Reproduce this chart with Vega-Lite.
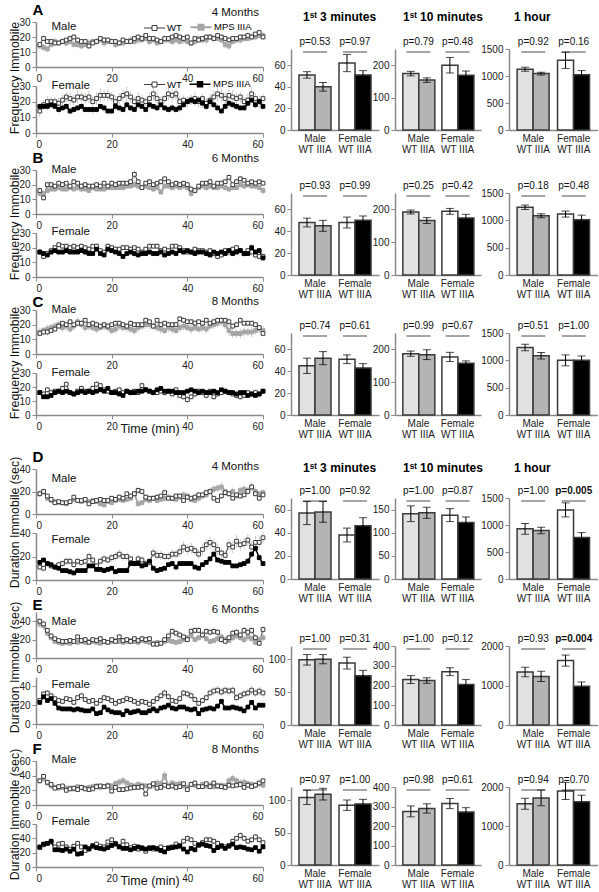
{
"$schema":"https://vega.github.io/schema/vega-lite/v6.json",
"background":"white",
"padding":{"left":8,"top":2,"right":0,"bottom":0},
"config":{"font":"Liberation Sans","view":{"stroke":null},"numberFormat":"d",
"axis":{"grid":false,"labelOverlap":false,"domainColor":"#8a8a8a","domainWidth":1.5,"tickColor":"#8a8a8a","tickSize":4,"labelColor":"#222","labelFontSize":10,"labelPadding":2,"titleFont":"Liberation Sans","titleFontWeight":"normal","titleFontSize":12.5,"titleColor":"#111"},
"title":{"font":"Liberation Sans","fontSize":11.5,"fontWeight":"normal","color":"#111"},
"bar":{"stroke":"#3a3a3a","strokeWidth":1.5},
"tick":{"color":"black","thickness":1},
"rule":{"color":"black","strokeWidth":1},
"text":{"fontSize":10,"color":"#111"},
"scale":{"bandPaddingInner":0.29,"bandPaddingOuter":0.19}},
"datasets":{
"ts":[
{"r":"A","s":"Male","g":"MPS IIIA","t":[1,2,3,4,5,6,7,8,9,10,11,12,13,14,15,16,17,18,19,20,21,22,23,24,25,26,27,28,29,30,31,32,33,34,35,36,37,38,39,40,41,42,43,44,45,46,47,48,49,50,51,52,53,54,55,56,57,58,59,60],"v":[14,13,12,15,17,16,17,16,17,15,15,14,15,16,17,17,18,16,17,17,15,16,16,17,18,17,18,18,19,17,18,16,17,18,18,17,18,17,18,17,16,17,19,18,18,20,19,19,18,15,14,17,18,18,19,19,20,20,21,21],"e":[2,2.5,2,2,2.5,2,2,2.5,2,2,2.5,2,2,2.5,2,2,2,2.5,2,2,2.5,2,2,2,2.5,2,2.5,2,2,2.5,2,2,2.5,2,2,2.5,2,2,2.5,2,2,2.5,2,2,2.5,2,2.5,2,2,2.5,2.5,2,2,2.5,2,2,2.5,2,2,2.5]},
{"r":"A","s":"Male","g":"WT","t":[1,2,3,4,5,6,7,8,9,10,11,12,13,14,15,16,17,18,19,20,21,22,23,24,25,26,27,28,29,30,31,32,33,34,35,36,37,38,39,40,41,42,43,44,45,46,47,48,49,50,51,52,53,54,55,56,57,58,59,60],"v":[15,19,17,17,16,16,17,18,19,20,18,17,17,14,16,17,19,18,18,17,17,16,18,17,17,19,20,19,21,19,19,18,17,19,19,20,21,20,19,20,16,19,18,19,20,20,19,21,20,19,18,19,19,20,20,21,20,22,23,20],"e":[1.5,2,1.5,1.5,2,1.5,2,1.5,2,2,1.5,1.5,2,2,1.5,2,1.5,2,1.5,1.5,2,1.5,2,1.5,2,2,1.5,2,1.5,2,1.5,2,1.5,2,2,1.5,2,2,1.5,2,2,1.5,2,1.5,2,2,1.5,2,2,1.5,2,2,1.5,2,1.5,2,2,1.5,2,2]},
{"r":"A","s":"Female","g":"WT","t":[1,2,3,4,5,6,7,8,9,10,11,12,13,14,15,16,17,18,19,20,21,22,23,24,25,26,27,28,29,30,31,32,33,34,35,36,37,38,39,40,41,42,43,44,45,46,47,48,49,50,51,52,53,54,55,56,57,58,59,60],"v":[14,18,20,20,20,19,21,23,22,21,23,23,22,23,20,22,24,24,24,23,20,22,24,25,23,20,22,21,20,22,25,22,20,22,25,24,25,20,21,20,21,22,20,22,19,21,23,25,24,22,24,23,22,23,20,21,25,22,20,22],"e":[4,3,3.5,3,3,4,3.5,3,4,3.5,4,3,3.5,4,3,4,4.5,3.5,4,3,4,3.5,4,4.5,3.5,3,4,3.5,3,4,4.5,4,3.5,3,4,4.5,4,3.5,3,3.5,3,4,3.5,3,3.5,4,4.5,5,4,3.5,4,4.5,4,3.5,3,4,4,3.5,4,3]},
{"r":"A","s":"Female","g":"MPS IIIA","t":[1,2,3,4,5,6,7,8,9,10,11,12,13,14,15,16,17,18,19,20,21,22,23,24,25,26,27,28,29,30,31,32,33,34,35,36,37,38,39,40,41,42,43,44,45,46,47,48,49,50,51,52,53,54,55,56,57,58,59,60],"v":[17,17,17,18,17,15,16,17,14,15,16,17,15,15,15,15,17,16,14,14,17,16,15,18,16,15,18,17,15,18,17,16,18,16,15,16,15,16,18,20,21,20,21,19,17,20,18,16,14,17,19,18,17,16,16,19,21,18,20,17],"e":[2,2,2.5,2,2,2.5,2,2,2.5,2,2,2.5,2,2,2.5,2,2,2.5,2,2,2.5,2,2,2.5,2,2,2.5,2,2,2.5,2,2,2.5,2,2,2.5,2,2.5,2,2.5,3,2.5,2.5,3,2.5,3,2.5,2.5,2,2.5,2.5,2,2.5,2,2,2.5,3,2.5,2.5,2]},
{"r":"B","s":"Male","g":"MPS IIIA","t":[1,2,3,4,5,6,7,8,9,10,11,12,13,14,15,16,17,18,19,20,21,22,23,24,25,26,27,28,29,30,31,32,33,34,35,36,37,38,39,40,41,42,43,44,45,46,47,48,49,50,51,52,53,54,55,56,57,58,59,60],"v":[14,14,16,17,17,18,17,17,18,17,18,17,17,16,18,17,17,17,18,18,18,18,18,19,19,20,19,18,19,18,17,18,15,19,19,18,19,18,19,18,14,16,18,19,18,19,18,18,19,18,17,18,18,20,19,20,19,19,18,16],"e":[2,2,2,1.5,2,2,1.5,2,2,1.5,2,2,1.5,2,2,1.5,2,2,1.5,2,2,1.5,2,2,1.5,2,2,1.5,2,2,2,1.5,2,2,1.5,2,2,1.5,2,2,2.5,2,2,1.5,2,2,1.5,2,2,1.5,2,2,1.5,2,2,2,1.5,2,2,2.5]},
{"r":"B","s":"Male","g":"WT","t":[1,2,3,4,5,6,7,8,9,10,11,12,13,14,15,16,17,18,19,20,21,22,23,24,25,26,27,28,29,30,31,32,33,34,35,36,37,38,39,40,41,42,43,44,45,46,47,48,49,50,51,52,53,54,55,56,57,58,59,60],"v":[16,11,20,20,19,21,20,21,19,22,21,19,20,19,19,20,19,21,19,21,20,21,21,21,22,27,22,18,21,22,20,21,22,24,22,20,21,20,21,20,17,16,19,21,21,22,19,21,21,22,25,20,22,24,23,21,22,21,22,21],"e":[2.5,2,2,2,1.5,2,2,1.5,2,2,1.5,2,2,1.5,2,2,1.5,2,2,2,1.5,2,2,1.5,2,3,2,2,1.5,2,2,1.5,2,2,2,1.5,2,2,1.5,2,2.5,2,2,1.5,2,2,2,1.5,2,2,2.5,2,2,2,1.5,2,2,1.5,2,2]},
{"r":"B","s":"Female","g":"WT","t":[1,2,3,4,5,6,7,8,9,10,11,12,13,14,15,16,17,18,19,20,21,22,23,24,25,26,27,28,29,30,31,32,33,34,35,36,37,38,39,40,41,42,43,44,45,46,47,48,49,50,51,52,53,54,55,56,57,58,59,60],"v":[17,14,16,18,20,22,21,21,20,21,20,21,20,19,21,21,18,17,21,20,19,19,20,20,19,20,19,17,19,21,21,21,18,19,18,21,21,20,18,17,17,19,18,18,17,18,16,14,15,18,17,19,20,18,16,18,17,15,14,14],"e":[2,2.5,2,2,1.5,2,1.5,2,1.5,2,1.5,2,1.5,2,1.5,2,2,1.5,2,1.5,2,1.5,2,1.5,2,1.5,2,2,1.5,2,1.5,2,1.5,2,1.5,2,2,1.5,2,1.5,2,1.5,2,1.5,2,2,2.5,2.5,2,2,2.5,2,2,2,2.5,2,2.5,2.5,2,2.5]},
{"r":"B","s":"Female","g":"MPS IIIA","t":[1,2,3,4,5,6,7,8,9,10,11,12,13,14,15,16,17,18,19,20,21,22,23,24,25,26,27,28,29,30,31,32,33,34,35,36,37,38,39,40,41,42,43,44,45,46,47,48,49,50,51,52,53,54,55,56,57,58,59,60],"v":[17,16,15,17,18,17,17,18,17,17,17,18,17,16,16,19,16,15,19,18,17,16,14,16,17,16,15,16,16,17,16,16,17,15,16,17,16,18,17,18,17,16,17,17,16,15,17,16,17,16,18,16,17,18,16,16,20,17,18,13],"e":[1.5,2,1.5,2,1.5,1.5,2,1.5,1.5,2,1.5,1.5,2,1.5,1.5,2,1.5,1.5,2,1.5,1.5,2,1.5,1.5,2,1.5,1.5,2,1.5,1.5,2,1.5,1.5,2,1.5,1.5,2,1.5,1.5,2,1.5,1.5,2,1.5,1.5,2,1.5,1.5,2,1.5,1.5,2,1.5,1.5,2,1.5,2.5,2,1.5,2]},
{"r":"C","s":"Male","g":"MPS IIIA","t":[1,2,3,4,5,6,7,8,9,10,11,12,13,14,15,16,17,18,19,20,21,22,23,24,25,26,27,28,29,30,31,32,33,34,35,36,37,38,39,40,41,42,43,44,45,46,47,48,49,50,51,52,53,54,55,56,57,58,59,60],"v":[15,16,17,18,19,20,18,19,17,19,22,20,18,19,18,17,18,19,18,16,17,19,18,18,17,16,18,19,20,20,19,18,17,16,18,17,16,18,19,18,17,18,17,18,17,19,20,21,22,20,16,14,14,14,15,15,15,16,17,16],"e":[3,2.5,3,2.5,3,2.5,3,3,2.5,3,3,2.5,3,3,2.5,3,2.5,3,3,2.5,3,3,2.5,3,2.5,3,3,2.5,3,3,2.5,3,3,2.5,3,3,2.5,3,3,2.5,3,3,2.5,3,3,2.5,3,3,3,3,3.5,3,3,3.5,3,3,3.5,3,3,3]},
{"r":"C","s":"Male","g":"WT","t":[1,2,3,4,5,6,7,8,9,10,11,12,13,14,15,16,17,18,19,20,21,22,23,24,25,26,27,28,29,30,31,32,33,34,35,36,37,38,39,40,41,42,43,44,45,46,47,48,49,50,51,52,53,54,55,56,57,58,59,60],"v":[14,15,15,16,17,19,21,20,22,20,21,21,23,20,21,20,19,20,19,20,21,21,20,19,21,20,20,20,23,22,19,23,20,21,20,20,20,24,23,22,22,21,22,21,23,21,22,23,23,23,22,19,20,23,21,21,21,20,18,14],"e":[2,2,2.5,2,2,2,1.5,2,2,1.5,2,2,2,1.5,2,2,1.5,2,2,1.5,2,2,1.5,2,2,1.5,2,2,2,1.5,2,2,1.5,2,2,1.5,2,2,2,1.5,2,2,1.5,2,2,1.5,2,2,2,1.5,2,2,2,2,1.5,2,2,1.5,2,2]},
{"r":"C","s":"Female","g":"WT","t":[1,2,3,4,5,6,7,8,9,10,11,12,13,14,15,16,17,18,19,20,21,22,23,24,25,26,27,28,29,30,31,32,33,34,35,36,37,38,39,40,41,42,43,44,45,46,47,48,49,50,51,52,53,54,55,56,57,58,59,60],"v":[16,15,18,16,17,17,19,22,16,15,17,19,17,17,19,22,21,18,17,16,17,18,16,17,16,17,16,21,18,17,16,16,17,16,17,15,18,14,13,11,13,15,17,16,14,17,13,15,16,17,16,15,14,13,14,16,15,16,15,17],"e":[2,2.5,2,2.5,2,2,2.5,2,2.5,2,2,2.5,2,2,2.5,2.5,2,2,2.5,2,2,2.5,2,2,2.5,2,2,2.5,2,2,2.5,2,2,2.5,2,2,2.5,2,2.5,2.5,2,2.5,2,2,2.5,2,2.5,2,2,2.5,2,2,2.5,2,2.5,2,2,2.5,2,2]},
{"r":"C","s":"Female","g":"MPS IIIA","t":[1,2,3,4,5,6,7,8,9,10,11,12,13,14,15,16,17,18,19,20,21,22,23,24,25,26,27,28,29,30,31,32,33,34,35,36,37,38,39,40,41,42,43,44,45,46,47,48,49,50,51,52,53,54,55,56,57,58,59,60],"v":[16,13,13,14,16,17,16,17,16,15,16,17,16,17,16,17,18,17,19,16,16,15,14,17,16,16,17,17,18,17,16,18,19,17,17,17,16,16,16,17,18,17,16,17,16,16,17,16,18,17,16,16,15,16,16,14,15,14,15,17],"e":[1.5,1.5,2,1.5,1.5,1.5,2,1.5,1.5,1.5,2,1.5,1.5,1.5,2,1.5,1.5,1.5,2,1.5,1.5,1.5,2,1.5,1.5,1.5,2,1.5,1.5,1.5,2,1.5,1.5,1.5,2,1.5,1.5,1.5,2,1.5,1.5,1.5,2,1.5,1.5,1.5,2,1.5,1.5,1.5,2,1.5,1.5,1.5,2,1.5,1.5,1.5,2,1.5]},
{"r":"D","s":"Male","g":"MPS IIIA","t":[1,2,3,4,5,6,7,8,9,10,11,12,13,14,15,16,17,18,19,20,21,22,23,24,25,26,27,28,29,30,31,32,33,34,35,36,37,38,39,40,41,42,43,44,45,46,47,48,49,50,51,52,53,54,55,56,57,58,59,60],"v":[18,20,14,12,11,10,10,9,11,13,12,11,12,11,12,11,9,8,11,10,12,13,12,13,14,18,9,10,13,12,14,12,13,14,15,14,13,15,17,16,13,12,14,16,17,20,22,23,24,20,18,20,16,21,22,21,24,20,18,19],"e":[3,3,2.5,2,2,1.5,2,1.5,2,2,2,2,2,2,2.5,2,2,1.5,2,2,2.5,2.5,2,2.5,2.5,3,2,2,2.5,2.5,2.5,2.5,2.5,3,2.5,2.5,2.5,3,3,3,2.5,2.5,3,3,3,3.5,3.5,3.5,4,3.5,3,3.5,3,3.5,3.5,3,4,3.5,3,3]},
{"r":"D","s":"Male","g":"WT","t":[1,2,3,4,5,6,7,8,9,10,11,12,13,14,15,16,17,18,19,20,21,22,23,24,25,26,27,28,29,30,31,32,33,34,35,36,37,38,39,40,41,42,43,44,45,46,47,48,49,50,51,52,53,54,55,56,57,58,59,60],"v":[18,20,16,13,10,11,10,10,11,15,12,12,13,9,11,12,13,12,12,14,13,15,14,18,16,18,21,20,15,14,14,15,16,19,14,14,16,16,12,15,14,15,17,17,19,20,14,12,16,19,18,14,17,16,17,20,24,18,14,17],"e":[3,2.5,2,2,1.5,2,1.5,1.5,2,2,2,1.5,2,1.5,2,2,1.5,2,2,2,2,2.5,2,2.5,2,2.5,3,2.5,2,2,2,2.5,2,3,2,2,2.5,2,2,2.5,2,2.5,2.5,2,3,2.5,2,2,2.5,3,2.5,2,2.5,2.5,2,3,3,2.5,2,2.5]},
{"r":"D","s":"Female","g":"WT","t":[1,2,3,4,5,6,7,8,9,10,11,12,13,14,15,16,17,18,19,20,21,22,23,24,25,26,27,28,29,30,31,32,33,34,35,36,37,38,39,40,41,42,43,44,45,46,47,48,49,50,51,52,53,54,55,56,57,58,59,60],"v":[11,10,14,12,11,13,14,16,16,13,16,15,16,20,17,12,16,18,17,19,20,22,20,20,18,14,18,17,14,15,23,21,21,20,20,22,22,24,28,26,27,25,22,26,30,32,30,26,23,21,30,28,33,30,31,34,28,32,32,36],"e":[3,2.5,3,2.5,2.5,3,3,3,3,2.5,3,3,3,3.5,3,2.5,3,3.5,3,3.5,3.5,4,3.5,3.5,3,3,3.5,3,3,3,4,3.5,4,3.5,3.5,4,4,4.5,5,4.5,4.5,4,4,4.5,5,5,5,4.5,4,4,5,5,5.5,5,5,5.5,5,5.5,5,5]},
{"r":"D","s":"Female","g":"MPS IIIA","t":[1,2,3,4,5,6,7,8,9,10,11,12,13,14,15,16,17,18,19,20,21,22,23,24,25,26,27,28,29,30,31,32,33,34,35,36,37,38,39,40,41,42,43,44,45,46,47,48,49,50,51,52,53,54,55,56,57,58,59,60],"v":[15,17,14,13,11,10,8,8,7,6,8,8,8,12,12,9,9,8,9,10,7,8,8,8,14,14,14,12,13,16,10,8,9,10,13,14,11,14,14,14,14,11,10,13,15,18,22,17,16,15,15,12,12,13,14,16,22,27,19,14],"e":[2,2,2,2,1.5,1.5,1.5,1.5,1.5,1,1.5,1.5,1.5,2,2,1.5,1.5,1.5,1.5,1.5,1.5,1.5,1.5,1.5,2,2,2,2,2,2.5,1.5,1.5,1.5,1.5,2,2,2,2,2,2,2,2,1.5,2,2,2.5,3,2.5,2.5,2,2,2,2,2,2,2.5,3,3.5,3,2]},
{"r":"E","s":"Male","g":"MPS IIIA","t":[1,2,3,4,5,6,7,8,9,10,11,12,13,14,15,16,17,18,19,20,21,22,23,24,25,26,27,28,29,30,31,32,33,34,35,36,37,38,39,40,41,42,43,44,45,46,47,48,49,50,51,52,53,54,55,56,57,58,59,60],"v":[37,35,27,22,18,17,16,17,16,18,17,18,17,18,18,17,16,18,17,18,19,18,17,18,19,18,17,19,18,17,16,17,16,18,19,18,17,18,20,22,24,20,22,25,21,18,19,21,23,20,19,22,24,22,20,23,21,17,20,22],"e":[4,4,3.5,3,2.5,2.5,2,2,2,2.5,2.5,2.5,2,2.5,2.5,2.5,2,2.5,2.5,2.5,2.5,2.5,2.5,2.5,2.5,2.5,2.5,2.5,2.5,2.5,2,2.5,2,2.5,2.5,2.5,2.5,3,3,3.5,3.5,3,3.5,4,3.5,3,3,3.5,4,3.5,3,3.5,4,3.5,3.5,4,3.5,3,3.5,4]},
{"r":"E","s":"Male","g":"WT","t":[1,2,3,4,5,6,7,8,9,10,11,12,13,14,15,16,17,18,19,20,21,22,23,24,25,26,27,28,29,30,31,32,33,34,35,36,37,38,39,40,41,42,43,44,45,46,47,48,49,50,51,52,53,54,55,56,57,58,59,60],"v":[40,37,30,24,21,19,18,18,19,18,23,19,20,17,20,19,21,18,17,20,18,23,19,20,18,21,19,21,20,21,15,15,16,20,24,29,27,25,23,20,29,30,30,25,29,28,29,28,20,18,22,27,28,25,30,28,30,22,16,31],"e":[4,4,3,3,2.5,2.5,2,2,2.5,2,3,2.5,2.5,2,2.5,2.5,3,2.5,2,2.5,2.5,3,2.5,2.5,2.5,3,2.5,3,2.5,3,2,2,2.5,3,3.5,4,3.5,3.5,3.5,3,4,4,4,3.5,4,4,4,4,3.5,3,3.5,4,4,3.5,4,4,4,3.5,3,4]},
{"r":"E","s":"Female","g":"WT","t":[1,2,3,4,5,6,7,8,9,10,11,12,13,14,15,16,17,18,19,20,21,22,23,24,25,26,27,28,29,30,31,32,33,34,35,36,37,38,39,40,41,42,43,44,45,46,47,48,49,50,51,52,53,54,55,56,57,58,59,60],"v":[25,32,33,30,27,25,24,27,26,23,28,30,26,24,25,22,25,28,27,25,22,24,25,27,26,24,22,24,23,21,24,27,30,33,29,25,24,27,33,32,30,26,22,25,28,33,35,36,34,36,35,36,28,30,32,33,36,33,35,33],"e":[3,3.5,3.5,3.5,3,3,3,3.5,3,3,3.5,3.5,3,3,3,3,3,3.5,3,3,3,3,3,3.5,3,3,3,3,3,3,3,3.5,3.5,4,3.5,3,3,3.5,4,4,4,3.5,3,3.5,3.5,4,4.5,4.5,4.5,4.5,4.5,4.5,4,4,4,4.5,4.5,4,4.5,4]},
{"r":"E","s":"Female","g":"MPS IIIA","t":[1,2,3,4,5,6,7,8,9,10,11,12,13,14,15,16,17,18,19,20,21,22,23,24,25,26,27,28,29,30,31,32,33,34,35,36,37,38,39,40,41,42,43,44,45,46,47,48,49,50,51,52,53,54,55,56,57,58,59,60],"v":[23,29,25,27,22,17,16,16,16,15,16,15,14,14,16,11,12,18,15,13,12,12,10,14,12,13,14,12,12,14,16,14,17,18,20,17,16,18,18,16,15,16,11,15,16,17,16,19,24,17,17,18,17,16,14,18,23,17,20,20],"e":[2.5,3,2.5,3,2.5,2,2,2,2,2,2,2,2,2,2,1.5,1.5,2.5,2,2,1.5,1.5,1.5,2,1.5,2,2,1.5,1.5,2,2,2,2,2.5,2.5,2,2,2.5,2.5,2,2,2,1.5,2,2,2,2,2.5,3,2,2,2.5,2,2,2,2.5,3,2,2.5,2.5]},
{"r":"F","s":"Male","g":"MPS IIIA","t":[1,2,3,4,5,6,7,8,9,10,11,12,13,14,15,16,17,18,19,20,21,22,23,24,25,26,27,28,29,30,31,32,33,34,35,36,37,38,39,40,41,42,43,44,45,46,47,48,49,50,51,52,53,54,55,56,57,58,59,60],"v":[33,36,30,26,24,23,24,23,23,22,25,24,23,24,25,26,24,25,27,26,29,31,33,30,27,26,28,27,26,25,27,30,29,40,26,30,28,29,26,24,28,27,25,28,26,27,25,26,27,26,33,36,33,30,31,29,28,27,29,27],"e":[4,4.5,4,4,3.5,4,4,3.5,4,4,4,4,3.5,4,4,4.5,4,4,4.5,4,4.5,5,5,4.5,4.5,4,4.5,4,4,4,4.5,5,4.5,6,4.5,5,4.5,4.5,4,4,4.5,4.5,4,4.5,4.5,4.5,4,4.5,4.5,4.5,5,5.5,5,5,5,4.5,4.5,4.5,5,4.5]},
{"r":"F","s":"Male","g":"WT","t":[1,2,3,4,5,6,7,8,9,10,11,12,13,14,15,16,17,18,19,20,21,22,23,24,25,26,27,28,29,30,31,32,33,34,35,36,37,38,39,40,41,42,43,44,45,46,47,48,49,50,51,52,53,54,55,56,57,58,59,60],"v":[33,39,31,28,23,25,26,20,22,23,21,24,22,21,22,25,26,25,26,19,24,21,21,22,23,24,24,25,15,26,29,23,24,27,25,26,24,25,29,21,28,30,25,25,29,25,30,26,25,24,27,26,27,28,24,27,25,27,30,33],"e":[3,4,3.5,3,3,3.5,3,2.5,3,3,2.5,3,3,2.5,3,3.5,3,3,3.5,2.5,3,3,2.5,3,3,3.5,3,3,2.5,3.5,3.5,3,3,3.5,3,3.5,3,3,3.5,3,3.5,4,3,3,3.5,3,4,3.5,3,3,3.5,3,3.5,4,3,3.5,3,3.5,4,4]},
{"r":"F","s":"Female","g":"WT","t":[1,2,3,4,5,6,7,8,9,10,11,12,13,14,15,16,17,18,19,20,21,22,23,24,25,26,27,28,29,30,31,32,33,34,35,36,37,38,39,40,41,42,43,44,45,46,47,48,49,50,51,52,53,54,55,56,57,58,59,60],"v":[27,31,33,35,28,32,33,28,25,29,33,28,23,26,30,32,29,28,35,38,33,29,36,31,27,29,25,27,22,27,25,26,28,26,27,28,32,30,36,40,38,33,30,34,38,38,36,33,30,28,30,36,40,44,40,36,38,42,38,34],"e":[3,3.5,3.5,4,3.5,3.5,3.5,3.5,3,3.5,4,3.5,3,3.5,3.5,4,3.5,3.5,4,4,4,3.5,4,3.5,3.5,3.5,3,3.5,3,3.5,3,3.5,3.5,3,3.5,3.5,4,3.5,4,4.5,4,4,3.5,4,4.5,4.5,4,4,3.5,3.5,4,4,4.5,5,4.5,4,4.5,4.5,4.5,4]},
{"r":"F","s":"Female","g":"MPS IIIA","t":[1,2,3,4,5,6,7,8,9,10,11,12,13,14,15,16,17,18,19,20,21,22,23,24,25,26,27,28,29,30,31,32,33,34,35,36,37,38,39,40,41,42,43,44,45,46,47,48,49,50,51,52,53,54,55,56,57,58,59,60],"v":[28,32,33,36,24,24,23,25,22,25,18,19,28,25,29,27,26,25,27,30,32,28,26,26,24,26,28,26,25,26,27,25,23,21,26,27,28,29,25,21,26,24,31,32,30,29,23,27,29,26,29,32,27,28,27,25,24,27,22,28],"e":[3,3,3,3.5,2.5,2.5,2.5,2.5,2.5,2.5,2,2,3,2.5,3,3,2.5,2.5,3,3,3,3,3,2.5,2.5,3,3,2.5,2.5,3,3,2.5,2.5,2.5,3,3,3,3,2.5,2.5,3,2.5,3,3.5,3,3,2.5,3,3,2.5,3,3.5,3,3,3,2.5,2.5,3,2.5,3]}
],
"bars":[
{"r":"A","c":1,"sex":"Male","g":"WT","grp":"Male WT","m":51,"lo":48,"hi":54,"p":"p=0.53"},
{"r":"A","c":1,"sex":"Male","g":"IIIA","grp":"Male IIIA","m":40,"lo":36,"hi":44,"p":"p=0.53"},
{"r":"A","c":1,"sex":"Female","g":"WT","grp":"Female WT","m":62,"lo":54,"hi":70,"p":"p=0.97"},
{"r":"A","c":1,"sex":"Female","g":"IIIA","grp":"Female IIIA","m":51,"lo":47,"hi":55,"p":"p=0.97"},
{"r":"A","c":2,"sex":"Male","g":"WT","grp":"Male WT","m":174,"lo":167,"hi":181,"p":"p=0.79"},
{"r":"A","c":2,"sex":"Male","g":"IIIA","grp":"Male IIIA","m":154,"lo":147,"hi":161,"p":"p=0.79"},
{"r":"A","c":2,"sex":"Female","g":"WT","grp":"Female WT","m":200,"lo":176,"hi":224,"p":"p=0.48"},
{"r":"A","c":2,"sex":"Female","g":"IIIA","grp":"Female IIIA","m":169,"lo":156,"hi":182,"p":"p=0.48"},
{"r":"A","c":3,"sex":"Male","g":"WT","grp":"Male WT","m":1125,"lo":1090,"hi":1160,"p":"p=0.92"},
{"r":"A","c":3,"sex":"Male","g":"IIIA","grp":"Male IIIA","m":1045,"lo":1020,"hi":1070,"p":"p=0.92"},
{"r":"A","c":3,"sex":"Female","g":"WT","grp":"Female WT","m":1290,"lo":1140,"hi":1440,"p":"p=0.16"},
{"r":"A","c":3,"sex":"Female","g":"IIIA","grp":"Female IIIA","m":1025,"lo":950,"hi":1100,"p":"p=0.16"},
{"r":"B","c":1,"sex":"Male","g":"WT","grp":"Male WT","m":48,"lo":44,"hi":52,"p":"p=0.93"},
{"r":"B","c":1,"sex":"Male","g":"IIIA","grp":"Male IIIA","m":45,"lo":40,"hi":50,"p":"p=0.93"},
{"r":"B","c":1,"sex":"Female","g":"WT","grp":"Female WT","m":48,"lo":43,"hi":53,"p":"p=0.99"},
{"r":"B","c":1,"sex":"Female","g":"IIIA","grp":"Female IIIA","m":50,"lo":46,"hi":54,"p":"p=0.99"},
{"r":"B","c":2,"sex":"Male","g":"WT","grp":"Male WT","m":192,"lo":186,"hi":198,"p":"p=0.25"},
{"r":"B","c":2,"sex":"Male","g":"IIIA","grp":"Male IIIA","m":166,"lo":157,"hi":175,"p":"p=0.25"},
{"r":"B","c":2,"sex":"Female","g":"WT","grp":"Female WT","m":194,"lo":185,"hi":203,"p":"p=0.42"},
{"r":"B","c":2,"sex":"Female","g":"IIIA","grp":"Female IIIA","m":174,"lo":163,"hi":185,"p":"p=0.42"},
{"r":"B","c":3,"sex":"Male","g":"WT","grp":"Male WT","m":1240,"lo":1200,"hi":1280,"p":"p=0.18"},
{"r":"B","c":3,"sex":"Male","g":"IIIA","grp":"Male IIIA","m":1085,"lo":1048,"hi":1122,"p":"p=0.18"},
{"r":"B","c":3,"sex":"Female","g":"WT","grp":"Female WT","m":1115,"lo":1060,"hi":1170,"p":"p=0.48"},
{"r":"B","c":3,"sex":"Female","g":"IIIA","grp":"Female IIIA","m":1010,"lo":925,"hi":1095,"p":"p=0.48"},
{"r":"C","c":1,"sex":"Male","g":"WT","grp":"Male WT","m":45,"lo":38,"hi":52,"p":"p=0.74"},
{"r":"C","c":1,"sex":"Male","g":"IIIA","grp":"Male IIIA","m":52,"lo":46,"hi":58,"p":"p=0.74"},
{"r":"C","c":1,"sex":"Female","g":"WT","grp":"Female WT","m":51,"lo":47,"hi":55,"p":"p=0.61"},
{"r":"C","c":1,"sex":"Female","g":"IIIA","grp":"Female IIIA","m":43,"lo":39,"hi":47,"p":"p=0.61"},
{"r":"C","c":2,"sex":"Male","g":"WT","grp":"Male WT","m":187,"lo":179,"hi":195,"p":"p=0.99"},
{"r":"C","c":2,"sex":"Male","g":"IIIA","grp":"Male IIIA","m":184,"lo":169,"hi":199,"p":"p=0.99"},
{"r":"C","c":2,"sex":"Female","g":"WT","grp":"Female WT","m":177,"lo":163,"hi":191,"p":"p=0.67"},
{"r":"C","c":2,"sex":"Female","g":"IIIA","grp":"Female IIIA","m":158,"lo":151,"hi":165,"p":"p=0.67"},
{"r":"C","c":3,"sex":"Male","g":"WT","grp":"Male WT","m":1235,"lo":1175,"hi":1295,"p":"p=0.51"},
{"r":"C","c":3,"sex":"Male","g":"IIIA","grp":"Male IIIA","m":1085,"lo":1025,"hi":1145,"p":"p=0.51"},
{"r":"C","c":3,"sex":"Female","g":"WT","grp":"Female WT","m":1000,"lo":900,"hi":1100,"p":"p=1.00"},
{"r":"C","c":3,"sex":"Female","g":"IIIA","grp":"Female IIIA","m":1000,"lo":920,"hi":1080,"p":"p=1.00"},
{"r":"D","c":1,"sex":"Male","g":"WT","grp":"Male WT","m":57,"lo":47,"hi":67,"p":"p=1.00"},
{"r":"D","c":1,"sex":"Male","g":"IIIA","grp":"Male IIIA","m":58,"lo":49,"hi":67,"p":"p=1.00"},
{"r":"D","c":1,"sex":"Female","g":"WT","grp":"Female WT","m":38,"lo":32,"hi":44,"p":"p=0.92"},
{"r":"D","c":1,"sex":"Female","g":"IIIA","grp":"Female IIIA","m":46,"lo":39,"hi":53,"p":"p=0.92"},
{"r":"D","c":2,"sex":"Male","g":"WT","grp":"Male WT","m":141,"lo":124,"hi":158,"p":"p=1.00"},
{"r":"D","c":2,"sex":"Male","g":"IIIA","grp":"Male IIIA","m":143,"lo":131,"hi":155,"p":"p=1.00"},
{"r":"D","c":2,"sex":"Female","g":"WT","grp":"Female WT","m":138,"lo":124,"hi":152,"p":"p=0.87"},
{"r":"D","c":2,"sex":"Female","g":"IIIA","grp":"Female IIIA","m":122,"lo":110,"hi":134,"p":"p=0.87"},
{"r":"D","c":3,"sex":"Male","g":"WT","grp":"Male WT","m":930,"lo":830,"hi":1030,"p":"p=1.00"},
{"r":"D","c":3,"sex":"Male","g":"IIIA","grp":"Male IIIA","m":900,"lo":840,"hi":960,"p":"p=1.00"},
{"r":"D","c":3,"sex":"Female","g":"WT","grp":"Female WT","m":1280,"lo":1150,"hi":1410,"p":"p=0.005","b":1},
{"r":"D","c":3,"sex":"Female","g":"IIIA","grp":"Female IIIA","m":770,"lo":680,"hi":860,"p":"p=0.005","b":1},
{"r":"E","c":1,"sex":"Male","g":"WT","grp":"Male WT","m":99,"lo":91,"hi":107,"p":"p=1.00"},
{"r":"E","c":1,"sex":"Male","g":"IIIA","grp":"Male IIIA","m":100,"lo":93,"hi":107,"p":"p=1.00"},
{"r":"E","c":1,"sex":"Female","g":"WT","grp":"Female WT","m":94,"lo":85,"hi":103,"p":"p=0.31"},
{"r":"E","c":1,"sex":"Female","g":"IIIA","grp":"Female IIIA","m":75,"lo":67,"hi":83,"p":"p=0.31"},
{"r":"E","c":2,"sex":"Male","g":"WT","grp":"Male WT","m":230,"lo":210,"hi":250,"p":"p=1.00"},
{"r":"E","c":2,"sex":"Male","g":"IIIA","grp":"Male IIIA","m":225,"lo":211,"hi":239,"p":"p=1.00"},
{"r":"E","c":2,"sex":"Female","g":"WT","grp":"Female WT","m":270,"lo":250,"hi":290,"p":"p=0.12"},
{"r":"E","c":2,"sex":"Female","g":"IIIA","grp":"Female IIIA","m":205,"lo":180,"hi":230,"p":"p=0.12"},
{"r":"E","c":3,"sex":"Male","g":"WT","grp":"Male WT","m":1340,"lo":1220,"hi":1460,"p":"p=0.93"},
{"r":"E","c":3,"sex":"Male","g":"IIIA","grp":"Male IIIA","m":1230,"lo":1100,"hi":1360,"p":"p=0.93"},
{"r":"E","c":3,"sex":"Female","g":"WT","grp":"Female WT","m":1630,"lo":1490,"hi":1770,"p":"p=0.004","b":1},
{"r":"E","c":3,"sex":"Female","g":"IIIA","grp":"Female IIIA","m":980,"lo":870,"hi":1090,"p":"p=0.004","b":1},
{"r":"F","c":1,"sex":"Male","g":"WT","grp":"Male WT","m":104,"lo":93,"hi":115,"p":"p=0.97"},
{"r":"F","c":1,"sex":"Male","g":"IIIA","grp":"Male IIIA","m":109,"lo":100,"hi":118,"p":"p=0.97"},
{"r":"F","c":1,"sex":"Female","g":"WT","grp":"Female WT","m":92,"lo":84,"hi":100,"p":"p=1.00"},
{"r":"F","c":1,"sex":"Female","g":"IIIA","grp":"Female IIIA","m":94,"lo":87,"hi":101,"p":"p=1.00"},
{"r":"F","c":2,"sex":"Male","g":"WT","grp":"Male WT","m":275,"lo":247,"hi":303,"p":"p=0.98"},
{"r":"F","c":2,"sex":"Male","g":"IIIA","grp":"Male IIIA","m":290,"lo":266,"hi":314,"p":"p=0.98"},
{"r":"F","c":2,"sex":"Female","g":"WT","grp":"Female WT","m":315,"lo":289,"hi":341,"p":"p=0.61"},
{"r":"F","c":2,"sex":"Female","g":"IIIA","grp":"Female IIIA","m":272,"lo":250,"hi":294,"p":"p=0.61"},
{"r":"F","c":3,"sex":"Male","g":"WT","grp":"Male WT","m":1570,"lo":1430,"hi":1710,"p":"p=0.94"},
{"r":"F","c":3,"sex":"Male","g":"IIIA","grp":"Male IIIA","m":1720,"lo":1520,"hi":1920,"p":"p=0.94"},
{"r":"F","c":3,"sex":"Female","g":"WT","grp":"Female WT","m":1900,"lo":1680,"hi":2120,"p":"p=0.70"},
{"r":"F","c":3,"sex":"Female","g":"IIIA","grp":"Female IIIA","m":1620,"lo":1450,"hi":1790,"p":"p=0.70"}
]},
"columns":4,
"bounds":"flush",
"spacing":{"row":19,"column":16},
"resolve":{"scale":{"stroke":"independent","fill":"independent","strokeWidth":"independent"}},
"concat":[
{"width":239,"height":63,"data":{"name":"ts"},"transform":[{"filter":"datum.r=='A'&&datum.s=='Male'"},{"flatten":["t","v","e"]}],"title":{"text":"4 Months","anchor":"end","frame":"group","dx":-16,"offset":-16},"resolve":{"axis":{"x":"independent"}},
 "encoding":{"y":{"field":"v","type":"quantitative","scale":{"domain":[0,30],"nice":false,"range":[63,18]},"axis":{"values":[0,10,20,30],"tickCount":20,"title":"Male","titleAngle":0,"titleAlign":"left","titleBaseline":"top","titleX":15,"titleY":16,"titleFontSize":11.5}}},
 "layer":[
  {"mark":{"type":"errorbar","color":"#c8c8c8","thickness":1},"encoding":{"x":{"field":"t","type":"quantitative","scale":{"domain":[0,60],"nice":false,"range":[0,227]},"axis":{"values":[0,20,40,60],"tickCount":20,"title":null}},"yError":{"field":"e"}}},
  {"mark":"line","encoding":{"x":{"field":"t","type":"quantitative","axis":{"orient":"top","domain":false,"ticks":false,"labels":false,"title":"A","titleX":-4,"titleY":13,"titleAlign":"left","titleBaseline":"bottom","titleFontSize":15,"titleFontWeight":"bold","titleColor":"#000"}},"stroke":{"field":"g","type":"nominal","scale":{"domain":["WT","MPS IIIA"],"range":["#3c3c3c","#a6a6a6"]},"legend":{"orient":"none","legendX":113,"legendY":17,"direction":"horizontal","gridAlign":"each","title":null,"symbolType":"M-2.1,0H-0.5M0.5,0H2.1M-0.5,-0.5H0.5V0.5H-0.5Z","symbolSize":100,"symbolStrokeWidth":1,"labelFontSize":9.5,"labelOffset":7,"columnPadding":4,"padding":0}},"strokeWidth":{"field":"g","type":"nominal","scale":{"domain":["WT","MPS IIIA"],"range":[1,2]},"legend":null}}},
  {"mark":{"type":"point","shape":"square","size":14,"filled":true,"opacity":1,"strokeWidth":1},"encoding":{"x":{"field":"t","type":"quantitative","axis":null},"stroke":{"field":"g","type":"nominal","scale":{"domain":["WT","MPS IIIA"],"range":["#3c3c3c","#a6a6a6"]},"legend":{"orient":"none","legendX":113,"legendY":17,"direction":"horizontal","gridAlign":"each","title":null,"symbolType":"M-2.1,0H-0.5M0.5,0H2.1M-0.5,-0.5H0.5V0.5H-0.5Z","symbolSize":100,"symbolStrokeWidth":1,"labelFontSize":9.5,"labelOffset":7,"columnPadding":4,"padding":0}},"fill":{"field":"g","type":"nominal","scale":{"domain":["WT","MPS IIIA"],"range":["#ffffff","#a6a6a6"]},"legend":{"orient":"none","legendX":113,"legendY":17,"direction":"horizontal","gridAlign":"each","title":null,"symbolType":"M-2.1,0H-0.5M0.5,0H2.1M-0.5,-0.5H0.5V0.5H-0.5Z","symbolSize":100,"symbolStrokeWidth":1,"labelFontSize":9.5,"labelOffset":7,"columnPadding":4,"padding":0}}}}
 ]},
{"width":88,"height":63,"data":{"name":"bars"},"transform":[{"filter":"datum.r=='A'&&datum.c==1"}],"title":{"text":"1ˢᵗ 3 minutes","anchor":"start","frame":"group","dx":12,"offset":-20,"fontSize":12,"fontWeight":"bold","color":"#000"},
 "encoding":{"x":{"field":"sex","type":"nominal","sort":["Male","Female"],"title":null,"axis":{"labelAngle":0,"ticks":false,"labelExpr":"[datum.label,'WT IIIA']","labelLineHeight":11,"labelPadding":3,"offset":63}}},
 "layer":[
  {"mark":"bar","encoding":{"xOffset":{"field":"g","type":"nominal","sort":["WT","IIIA"]},"y":{"field":"m","type":"quantitative","title":null,"scale":{"domain":[0,75],"nice":false,"range":[126,45]},"axis":{"values":[0,20,40,60],"tickCount":20}},"fill":{"field":"grp","type":"nominal","scale":{"domain":["Male WT","Male IIIA","Female WT","Female IIIA"],"range":["#e1e1e1","#b4b4b4","#ffffff","#000000"]},"legend":null}}},
  {"mark":"rule","encoding":{"xOffset":{"field":"g","type":"nominal","sort":["WT","IIIA"]},"y":{"field":"lo","type":"quantitative","title":null},"y2":{"field":"hi"}}},
  {"mark":{"type":"tick","size":8},"encoding":{"xOffset":{"field":"g","type":"nominal","sort":["WT","IIIA"]},"y":{"field":"lo","type":"quantitative","title":null}}},
  {"mark":{"type":"tick","size":8},"encoding":{"xOffset":{"field":"g","type":"nominal","sort":["WT","IIIA"]},"y":{"field":"hi","type":"quantitative","title":null}}},
  {"transform":[{"filter":"datum.g=='WT'&&!datum.b"}],"mark":{"type":"text","dy":-4,"baseline":"alphabetic"},"encoding":{"y":{"datum":75,"title":null},"text":{"field":"p"}}},
  {"transform":[{"filter":"datum.g=='WT'"}],"mark":{"type":"tick","size":24,"yOffset":3},"encoding":{"y":{"datum":75,"title":null}}}
 ]},
{"width":98,"height":63,"data":{"name":"bars"},"transform":[{"filter":"datum.r=='A'&&datum.c==2"}],"title":{"text":"1ˢᵗ 10 minutes","anchor":"start","frame":"group","dx":8,"offset":-20,"fontSize":12,"fontWeight":"bold","color":"#000"},
 "encoding":{"x":{"field":"sex","type":"nominal","sort":["Male","Female"],"title":null,"scale":{"range":[0,86]},"axis":{"labelAngle":0,"ticks":false,"labelExpr":"[datum.label,'WT IIIA']","labelLineHeight":11,"labelPadding":3,"offset":63}}},
 "layer":[
  {"mark":"bar","encoding":{"xOffset":{"field":"g","type":"nominal","sort":["WT","IIIA"]},"y":{"field":"m","type":"quantitative","title":null,"scale":{"domain":[0,250],"nice":false,"range":[126,45]},"axis":{"values":[0,100,200],"tickCount":20}},"fill":{"field":"grp","type":"nominal","scale":{"domain":["Male WT","Male IIIA","Female WT","Female IIIA"],"range":["#e1e1e1","#b4b4b4","#ffffff","#000000"]},"legend":null}}},
  {"mark":"rule","encoding":{"xOffset":{"field":"g","type":"nominal","sort":["WT","IIIA"]},"y":{"field":"lo","type":"quantitative","title":null},"y2":{"field":"hi"}}},
  {"mark":{"type":"tick","size":8},"encoding":{"xOffset":{"field":"g","type":"nominal","sort":["WT","IIIA"]},"y":{"field":"lo","type":"quantitative","title":null}}},
  {"mark":{"type":"tick","size":8},"encoding":{"xOffset":{"field":"g","type":"nominal","sort":["WT","IIIA"]},"y":{"field":"hi","type":"quantitative","title":null}}},
  {"transform":[{"filter":"datum.g=='WT'&&!datum.b"}],"mark":{"type":"text","dy":-4,"baseline":"alphabetic"},"encoding":{"y":{"datum":250,"title":null},"text":{"field":"p"}}},
  {"transform":[{"filter":"datum.g=='WT'"}],"mark":{"type":"tick","size":24,"yOffset":3},"encoding":{"y":{"datum":250,"title":null}}}
 ]},
{"width":89,"height":63,"data":{"name":"bars"},"transform":[{"filter":"datum.r=='A'&&datum.c==3"}],"title":{"text":"1 hour","anchor":"start","frame":"group","dx":5,"offset":-20,"fontSize":12,"fontWeight":"bold","color":"#000"},
 "encoding":{"x":{"field":"sex","type":"nominal","sort":["Male","Female"],"title":null,"axis":{"labelAngle":0,"ticks":false,"labelExpr":"[datum.label,'WT IIIA']","labelLineHeight":11,"labelPadding":3,"offset":63}}},
 "layer":[
  {"mark":"bar","encoding":{"xOffset":{"field":"g","type":"nominal","sort":["WT","IIIA"]},"y":{"field":"m","type":"quantitative","title":null,"scale":{"domain":[0,1500],"nice":false,"range":[126,45]},"axis":{"values":[0,500,1000,1500],"tickCount":20}},"fill":{"field":"grp","type":"nominal","scale":{"domain":["Male WT","Male IIIA","Female WT","Female IIIA"],"range":["#e1e1e1","#b4b4b4","#ffffff","#000000"]},"legend":null}}},
  {"mark":"rule","encoding":{"xOffset":{"field":"g","type":"nominal","sort":["WT","IIIA"]},"y":{"field":"lo","type":"quantitative","title":null},"y2":{"field":"hi"}}},
  {"mark":{"type":"tick","size":8},"encoding":{"xOffset":{"field":"g","type":"nominal","sort":["WT","IIIA"]},"y":{"field":"lo","type":"quantitative","title":null}}},
  {"mark":{"type":"tick","size":8},"encoding":{"xOffset":{"field":"g","type":"nominal","sort":["WT","IIIA"]},"y":{"field":"hi","type":"quantitative","title":null}}},
  {"transform":[{"filter":"datum.g=='WT'&&!datum.b"}],"mark":{"type":"text","dy":-4,"baseline":"alphabetic"},"encoding":{"y":{"datum":1500,"title":null},"text":{"field":"p"}}},
  {"transform":[{"filter":"datum.g=='WT'"}],"mark":{"type":"tick","size":24,"yOffset":3},"encoding":{"y":{"datum":1500,"title":null}}}
 ]},
{"width":239,"height":47,"data":{"name":"ts"},"transform":[{"filter":"datum.r=='A'&&datum.s=='Female'"},{"flatten":["t","v","e"]}],"resolve":{"axis":{"x":"independent"}},
 "encoding":{"y":{"field":"v","type":"quantitative","scale":{"domain":[0,30],"nice":false},"axis":{"values":[0,10,20,30],"tickCount":20,"title":"Frequency Immobile","titleX":-15,"titleY":-8.5,"titleBaseline":"bottom","titleFontSize":12.4}}},
 "layer":[
  {"mark":{"type":"errorbar","color":"#c8c8c8","thickness":1},"encoding":{"x":{"field":"t","type":"quantitative","scale":{"domain":[0,60],"nice":false,"range":[0,227]},"axis":{"values":[0,20,40,60],"tickCount":20,"title":null}},"yError":{"field":"e"}}},
  {"mark":"line","encoding":{"x":{"field":"t","type":"quantitative","axis":{"orient":"top","domain":false,"ticks":false,"labels":false,"title":"Female","titleX":15,"titleY":4,"titleAlign":"left","titleBaseline":"bottom","titleFontSize":11.5}},"stroke":{"field":"g","type":"nominal","scale":{"domain":["WT","MPS IIIA"],"range":["#3c3c3c","#000000"]},"legend":{"orient":"none","legendX":113,"legendY":-8,"direction":"horizontal","gridAlign":"each","title":null,"symbolType":"M-2.1,0H-0.5M0.5,0H2.1M-0.5,-0.5H0.5V0.5H-0.5Z","symbolSize":100,"symbolStrokeWidth":1,"labelFontSize":9.5,"labelOffset":7,"columnPadding":4,"padding":0}},"strokeWidth":{"field":"g","type":"nominal","scale":{"domain":["WT","MPS IIIA"],"range":[1,1.5]},"legend":null}}},
  {"mark":{"type":"point","shape":"square","size":14,"filled":true,"opacity":1,"strokeWidth":1},"encoding":{"x":{"field":"t","type":"quantitative","axis":null},"stroke":{"field":"g","type":"nominal","scale":{"domain":["WT","MPS IIIA"],"range":["#3c3c3c","#000000"]},"legend":{"orient":"none","legendX":113,"legendY":-8,"direction":"horizontal","gridAlign":"each","title":null,"symbolType":"M-2.1,0H-0.5M0.5,0H2.1M-0.5,-0.5H0.5V0.5H-0.5Z","symbolSize":100,"symbolStrokeWidth":1,"labelFontSize":9.5,"labelOffset":7,"columnPadding":4,"padding":0}},"fill":{"field":"g","type":"nominal","scale":{"domain":["WT","MPS IIIA"],"range":["#ffffff","#000000"]},"legend":{"orient":"none","legendX":113,"legendY":-8,"direction":"horizontal","gridAlign":"each","title":null,"symbolType":"M-2.1,0H-0.5M0.5,0H2.1M-0.5,-0.5H0.5V0.5H-0.5Z","symbolSize":100,"symbolStrokeWidth":1,"labelFontSize":9.5,"labelOffset":7,"columnPadding":4,"padding":0}}}}
 ]},
{"width":1,"height":1,"data":{"values":[{"z":""}]},"mark":"text","encoding":{"text":{"field":"z"}}},
{"width":1,"height":1,"data":{"values":[{"z":""}]},"mark":"text","encoding":{"text":{"field":"z"}}},
{"width":1,"height":1,"data":{"values":[{"z":""}]},"mark":"text","encoding":{"text":{"field":"z"}}},
{"width":239,"height":62,"data":{"name":"ts"},"transform":[{"filter":"datum.r=='B'&&datum.s=='Male'"},{"flatten":["t","v","e"]}],"title":{"text":"6 Months","anchor":"end","frame":"group","dx":-16,"offset":-14},"resolve":{"axis":{"x":"independent"}},
 "encoding":{"y":{"field":"v","type":"quantitative","scale":{"domain":[0,30],"nice":false,"range":[62,18]},"axis":{"values":[0,10,20,30],"tickCount":20,"title":"Male","titleAngle":0,"titleAlign":"left","titleBaseline":"top","titleX":15,"titleY":11,"titleFontSize":11.5}}},
 "layer":[
  {"mark":{"type":"errorbar","color":"#c8c8c8","thickness":1},"encoding":{"x":{"field":"t","type":"quantitative","scale":{"domain":[0,60],"nice":false,"range":[0,227]},"axis":{"values":[0,20,40,60],"tickCount":20,"title":null}},"yError":{"field":"e"}}},
  {"mark":"line","encoding":{"x":{"field":"t","type":"quantitative","axis":{"orient":"top","domain":false,"ticks":false,"labels":false,"title":"B","titleX":-4,"titleY":13,"titleAlign":"left","titleBaseline":"bottom","titleFontSize":15,"titleFontWeight":"bold","titleColor":"#000"}},"stroke":{"field":"g","type":"nominal","scale":{"domain":["WT","MPS IIIA"],"range":["#3c3c3c","#a6a6a6"]},"legend":null},"strokeWidth":{"field":"g","type":"nominal","scale":{"domain":["WT","MPS IIIA"],"range":[1,2]},"legend":null}}},
  {"mark":{"type":"point","shape":"square","size":14,"filled":true,"opacity":1,"strokeWidth":1},"encoding":{"x":{"field":"t","type":"quantitative","axis":null},"stroke":{"field":"g","type":"nominal","scale":{"domain":["WT","MPS IIIA"],"range":["#3c3c3c","#a6a6a6"]},"legend":null},"fill":{"field":"g","type":"nominal","scale":{"domain":["WT","MPS IIIA"],"range":["#ffffff","#a6a6a6"]},"legend":null}}}
 ]},
{"width":88,"height":62,"data":{"name":"bars"},"transform":[{"filter":"datum.r=='B'&&datum.c==1"}],
 "encoding":{"x":{"field":"sex","type":"nominal","sort":["Male","Female"],"title":null,"axis":{"labelAngle":0,"ticks":false,"labelExpr":"[datum.label,'WT IIIA']","labelLineHeight":11,"labelPadding":3,"offset":61}}},
 "layer":[
  {"mark":"bar","encoding":{"xOffset":{"field":"g","type":"nominal","sort":["WT","IIIA"]},"y":{"field":"m","type":"quantitative","title":null,"scale":{"domain":[0,75],"nice":false,"range":[123,41]},"axis":{"values":[0,20,40,60],"tickCount":20}},"fill":{"field":"grp","type":"nominal","scale":{"domain":["Male WT","Male IIIA","Female WT","Female IIIA"],"range":["#e1e1e1","#b4b4b4","#ffffff","#000000"]},"legend":null}}},
  {"mark":"rule","encoding":{"xOffset":{"field":"g","type":"nominal","sort":["WT","IIIA"]},"y":{"field":"lo","type":"quantitative","title":null},"y2":{"field":"hi"}}},
  {"mark":{"type":"tick","size":8},"encoding":{"xOffset":{"field":"g","type":"nominal","sort":["WT","IIIA"]},"y":{"field":"lo","type":"quantitative","title":null}}},
  {"mark":{"type":"tick","size":8},"encoding":{"xOffset":{"field":"g","type":"nominal","sort":["WT","IIIA"]},"y":{"field":"hi","type":"quantitative","title":null}}},
  {"transform":[{"filter":"datum.g=='WT'&&!datum.b"}],"mark":{"type":"text","dy":-4,"baseline":"alphabetic"},"encoding":{"y":{"datum":75,"title":null},"text":{"field":"p"}}},
  {"transform":[{"filter":"datum.g=='WT'"}],"mark":{"type":"tick","size":24,"yOffset":3},"encoding":{"y":{"datum":75,"title":null}}}
 ]},
{"width":98,"height":62,"data":{"name":"bars"},"transform":[{"filter":"datum.r=='B'&&datum.c==2"}],
 "encoding":{"x":{"field":"sex","type":"nominal","sort":["Male","Female"],"title":null,"scale":{"range":[0,86]},"axis":{"labelAngle":0,"ticks":false,"labelExpr":"[datum.label,'WT IIIA']","labelLineHeight":11,"labelPadding":3,"offset":61}}},
 "layer":[
  {"mark":"bar","encoding":{"xOffset":{"field":"g","type":"nominal","sort":["WT","IIIA"]},"y":{"field":"m","type":"quantitative","title":null,"scale":{"domain":[0,250],"nice":false,"range":[123,41]},"axis":{"values":[0,100,200],"tickCount":20}},"fill":{"field":"grp","type":"nominal","scale":{"domain":["Male WT","Male IIIA","Female WT","Female IIIA"],"range":["#e1e1e1","#b4b4b4","#ffffff","#000000"]},"legend":null}}},
  {"mark":"rule","encoding":{"xOffset":{"field":"g","type":"nominal","sort":["WT","IIIA"]},"y":{"field":"lo","type":"quantitative","title":null},"y2":{"field":"hi"}}},
  {"mark":{"type":"tick","size":8},"encoding":{"xOffset":{"field":"g","type":"nominal","sort":["WT","IIIA"]},"y":{"field":"lo","type":"quantitative","title":null}}},
  {"mark":{"type":"tick","size":8},"encoding":{"xOffset":{"field":"g","type":"nominal","sort":["WT","IIIA"]},"y":{"field":"hi","type":"quantitative","title":null}}},
  {"transform":[{"filter":"datum.g=='WT'&&!datum.b"}],"mark":{"type":"text","dy":-4,"baseline":"alphabetic"},"encoding":{"y":{"datum":250,"title":null},"text":{"field":"p"}}},
  {"transform":[{"filter":"datum.g=='WT'"}],"mark":{"type":"tick","size":24,"yOffset":3},"encoding":{"y":{"datum":250,"title":null}}}
 ]},
{"width":89,"height":62,"data":{"name":"bars"},"transform":[{"filter":"datum.r=='B'&&datum.c==3"}],
 "encoding":{"x":{"field":"sex","type":"nominal","sort":["Male","Female"],"title":null,"axis":{"labelAngle":0,"ticks":false,"labelExpr":"[datum.label,'WT IIIA']","labelLineHeight":11,"labelPadding":3,"offset":61}}},
 "layer":[
  {"mark":"bar","encoding":{"xOffset":{"field":"g","type":"nominal","sort":["WT","IIIA"]},"y":{"field":"m","type":"quantitative","title":null,"scale":{"domain":[0,1500],"nice":false,"range":[123,41]},"axis":{"values":[0,500,1000,1500],"tickCount":20}},"fill":{"field":"grp","type":"nominal","scale":{"domain":["Male WT","Male IIIA","Female WT","Female IIIA"],"range":["#e1e1e1","#b4b4b4","#ffffff","#000000"]},"legend":null}}},
  {"mark":"rule","encoding":{"xOffset":{"field":"g","type":"nominal","sort":["WT","IIIA"]},"y":{"field":"lo","type":"quantitative","title":null},"y2":{"field":"hi"}}},
  {"mark":{"type":"tick","size":8},"encoding":{"xOffset":{"field":"g","type":"nominal","sort":["WT","IIIA"]},"y":{"field":"lo","type":"quantitative","title":null}}},
  {"mark":{"type":"tick","size":8},"encoding":{"xOffset":{"field":"g","type":"nominal","sort":["WT","IIIA"]},"y":{"field":"hi","type":"quantitative","title":null}}},
  {"transform":[{"filter":"datum.g=='WT'&&!datum.b"}],"mark":{"type":"text","dy":-4,"baseline":"alphabetic"},"encoding":{"y":{"datum":1500,"title":null},"text":{"field":"p"}}},
  {"transform":[{"filter":"datum.g=='WT'"}],"mark":{"type":"tick","size":24,"yOffset":3},"encoding":{"y":{"datum":1500,"title":null}}}
 ]},
{"width":239,"height":44,"data":{"name":"ts"},"transform":[{"filter":"datum.r=='B'&&datum.s=='Female'"},{"flatten":["t","v","e"]}],"resolve":{"axis":{"x":"independent"}},
 "encoding":{"y":{"field":"v","type":"quantitative","scale":{"domain":[0,30],"nice":false},"axis":{"values":[0,10,20,30],"tickCount":20,"title":"Frequency Immobile","titleX":-15,"titleY":-9.5,"titleBaseline":"bottom","titleFontSize":12.4}}},
 "layer":[
  {"mark":{"type":"errorbar","color":"#c8c8c8","thickness":1},"encoding":{"x":{"field":"t","type":"quantitative","scale":{"domain":[0,60],"nice":false,"range":[0,227]},"axis":{"values":[0,20,40,60],"tickCount":20,"title":null}},"yError":{"field":"e"}}},
  {"mark":"line","encoding":{"x":{"field":"t","type":"quantitative","axis":{"orient":"top","domain":false,"ticks":false,"labels":false,"title":"Female","titleX":15,"titleY":3,"titleAlign":"left","titleBaseline":"bottom","titleFontSize":11.5}},"stroke":{"field":"g","type":"nominal","scale":{"domain":["WT","MPS IIIA"],"range":["#3c3c3c","#000000"]},"legend":null},"strokeWidth":{"field":"g","type":"nominal","scale":{"domain":["WT","MPS IIIA"],"range":[1,1.5]},"legend":null}}},
  {"mark":{"type":"point","shape":"square","size":14,"filled":true,"opacity":1,"strokeWidth":1},"encoding":{"x":{"field":"t","type":"quantitative","axis":null},"stroke":{"field":"g","type":"nominal","scale":{"domain":["WT","MPS IIIA"],"range":["#3c3c3c","#000000"]},"legend":null},"fill":{"field":"g","type":"nominal","scale":{"domain":["WT","MPS IIIA"],"range":["#ffffff","#000000"]},"legend":null}}}
 ]},
{"width":1,"height":1,"data":{"values":[{"z":""}]},"mark":"text","encoding":{"text":{"field":"z"}}},
{"width":1,"height":1,"data":{"values":[{"z":""}]},"mark":"text","encoding":{"text":{"field":"z"}}},
{"width":1,"height":1,"data":{"values":[{"z":""}]},"mark":"text","encoding":{"text":{"field":"z"}}},
{"width":239,"height":58,"data":{"name":"ts"},"transform":[{"filter":"datum.r=='C'&&datum.s=='Male'"},{"flatten":["t","v","e"]}],"title":{"text":"8 Months","anchor":"end","frame":"group","dx":-16,"offset":-13},"resolve":{"axis":{"x":"independent"}},
 "encoding":{"y":{"field":"v","type":"quantitative","scale":{"domain":[0,30],"nice":false,"range":[58,14]},"axis":{"values":[0,10,20,30],"tickCount":20,"title":"Male","titleAngle":0,"titleAlign":"left","titleBaseline":"top","titleX":15,"titleY":7,"titleFontSize":11.5}}},
 "layer":[
  {"mark":{"type":"errorbar","color":"#c8c8c8","thickness":1},"encoding":{"x":{"field":"t","type":"quantitative","scale":{"domain":[0,60],"nice":false,"range":[0,227]},"axis":{"values":[0,20,40,60],"tickCount":20,"title":null}},"yError":{"field":"e"}}},
  {"mark":"line","encoding":{"x":{"field":"t","type":"quantitative","axis":{"orient":"top","domain":false,"ticks":false,"labels":false,"title":"C","titleX":-4,"titleY":13,"titleAlign":"left","titleBaseline":"bottom","titleFontSize":15,"titleFontWeight":"bold","titleColor":"#000"}},"stroke":{"field":"g","type":"nominal","scale":{"domain":["WT","MPS IIIA"],"range":["#3c3c3c","#a6a6a6"]},"legend":null},"strokeWidth":{"field":"g","type":"nominal","scale":{"domain":["WT","MPS IIIA"],"range":[1,2]},"legend":null}}},
  {"mark":{"type":"point","shape":"square","size":14,"filled":true,"opacity":1,"strokeWidth":1},"encoding":{"x":{"field":"t","type":"quantitative","axis":null},"stroke":{"field":"g","type":"nominal","scale":{"domain":["WT","MPS IIIA"],"range":["#3c3c3c","#a6a6a6"]},"legend":null},"fill":{"field":"g","type":"nominal","scale":{"domain":["WT","MPS IIIA"],"range":["#ffffff","#a6a6a6"]},"legend":null}}}
 ]},
{"width":88,"height":58,"data":{"name":"bars"},"transform":[{"filter":"datum.r=='C'&&datum.c==1"}],
 "encoding":{"x":{"field":"sex","type":"nominal","sort":["Male","Female"],"title":null,"axis":{"labelAngle":0,"ticks":false,"labelExpr":"[datum.label,'WT IIIA']","labelLineHeight":11,"labelPadding":3,"offset":61}}},
 "layer":[
  {"mark":"bar","encoding":{"xOffset":{"field":"g","type":"nominal","sort":["WT","IIIA"]},"y":{"field":"m","type":"quantitative","title":null,"scale":{"domain":[0,75],"nice":false,"range":[119,37]},"axis":{"values":[0,20,40,60],"tickCount":20}},"fill":{"field":"grp","type":"nominal","scale":{"domain":["Male WT","Male IIIA","Female WT","Female IIIA"],"range":["#e1e1e1","#b4b4b4","#ffffff","#000000"]},"legend":null}}},
  {"mark":"rule","encoding":{"xOffset":{"field":"g","type":"nominal","sort":["WT","IIIA"]},"y":{"field":"lo","type":"quantitative","title":null},"y2":{"field":"hi"}}},
  {"mark":{"type":"tick","size":8},"encoding":{"xOffset":{"field":"g","type":"nominal","sort":["WT","IIIA"]},"y":{"field":"lo","type":"quantitative","title":null}}},
  {"mark":{"type":"tick","size":8},"encoding":{"xOffset":{"field":"g","type":"nominal","sort":["WT","IIIA"]},"y":{"field":"hi","type":"quantitative","title":null}}},
  {"transform":[{"filter":"datum.g=='WT'&&!datum.b"}],"mark":{"type":"text","dy":-4,"baseline":"alphabetic"},"encoding":{"y":{"datum":75,"title":null},"text":{"field":"p"}}},
  {"transform":[{"filter":"datum.g=='WT'"}],"mark":{"type":"tick","size":24,"yOffset":3},"encoding":{"y":{"datum":75,"title":null}}}
 ]},
{"width":98,"height":58,"data":{"name":"bars"},"transform":[{"filter":"datum.r=='C'&&datum.c==2"}],
 "encoding":{"x":{"field":"sex","type":"nominal","sort":["Male","Female"],"title":null,"scale":{"range":[0,86]},"axis":{"labelAngle":0,"ticks":false,"labelExpr":"[datum.label,'WT IIIA']","labelLineHeight":11,"labelPadding":3,"offset":61}}},
 "layer":[
  {"mark":"bar","encoding":{"xOffset":{"field":"g","type":"nominal","sort":["WT","IIIA"]},"y":{"field":"m","type":"quantitative","title":null,"scale":{"domain":[0,250],"nice":false,"range":[119,37]},"axis":{"values":[0,100,200],"tickCount":20}},"fill":{"field":"grp","type":"nominal","scale":{"domain":["Male WT","Male IIIA","Female WT","Female IIIA"],"range":["#e1e1e1","#b4b4b4","#ffffff","#000000"]},"legend":null}}},
  {"mark":"rule","encoding":{"xOffset":{"field":"g","type":"nominal","sort":["WT","IIIA"]},"y":{"field":"lo","type":"quantitative","title":null},"y2":{"field":"hi"}}},
  {"mark":{"type":"tick","size":8},"encoding":{"xOffset":{"field":"g","type":"nominal","sort":["WT","IIIA"]},"y":{"field":"lo","type":"quantitative","title":null}}},
  {"mark":{"type":"tick","size":8},"encoding":{"xOffset":{"field":"g","type":"nominal","sort":["WT","IIIA"]},"y":{"field":"hi","type":"quantitative","title":null}}},
  {"transform":[{"filter":"datum.g=='WT'&&!datum.b"}],"mark":{"type":"text","dy":-4,"baseline":"alphabetic"},"encoding":{"y":{"datum":250,"title":null},"text":{"field":"p"}}},
  {"transform":[{"filter":"datum.g=='WT'"}],"mark":{"type":"tick","size":24,"yOffset":3},"encoding":{"y":{"datum":250,"title":null}}}
 ]},
{"width":89,"height":58,"data":{"name":"bars"},"transform":[{"filter":"datum.r=='C'&&datum.c==3"}],
 "encoding":{"x":{"field":"sex","type":"nominal","sort":["Male","Female"],"title":null,"axis":{"labelAngle":0,"ticks":false,"labelExpr":"[datum.label,'WT IIIA']","labelLineHeight":11,"labelPadding":3,"offset":61}}},
 "layer":[
  {"mark":"bar","encoding":{"xOffset":{"field":"g","type":"nominal","sort":["WT","IIIA"]},"y":{"field":"m","type":"quantitative","title":null,"scale":{"domain":[0,1500],"nice":false,"range":[119,37]},"axis":{"values":[0,500,1000,1500],"tickCount":20}},"fill":{"field":"grp","type":"nominal","scale":{"domain":["Male WT","Male IIIA","Female WT","Female IIIA"],"range":["#e1e1e1","#b4b4b4","#ffffff","#000000"]},"legend":null}}},
  {"mark":"rule","encoding":{"xOffset":{"field":"g","type":"nominal","sort":["WT","IIIA"]},"y":{"field":"lo","type":"quantitative","title":null},"y2":{"field":"hi"}}},
  {"mark":{"type":"tick","size":8},"encoding":{"xOffset":{"field":"g","type":"nominal","sort":["WT","IIIA"]},"y":{"field":"lo","type":"quantitative","title":null}}},
  {"mark":{"type":"tick","size":8},"encoding":{"xOffset":{"field":"g","type":"nominal","sort":["WT","IIIA"]},"y":{"field":"hi","type":"quantitative","title":null}}},
  {"transform":[{"filter":"datum.g=='WT'&&!datum.b"}],"mark":{"type":"text","dy":-4,"baseline":"alphabetic"},"encoding":{"y":{"datum":1500,"title":null},"text":{"field":"p"}}},
  {"transform":[{"filter":"datum.g=='WT'"}],"mark":{"type":"tick","size":24,"yOffset":3},"encoding":{"y":{"datum":1500,"title":null}}}
 ]},
{"width":239,"height":42,"data":{"name":"ts"},"transform":[{"filter":"datum.r=='C'&&datum.s=='Female'"},{"flatten":["t","v","e"]}],"resolve":{"axis":{"x":"independent"}},
 "encoding":{"y":{"field":"v","type":"quantitative","scale":{"domain":[0,30],"nice":false},"axis":{"values":[0,10,20,30],"tickCount":20,"title":"Frequency Immobile","titleX":-15,"titleY":-10.5,"titleBaseline":"bottom","titleFontSize":12.4}}},
 "layer":[
  {"mark":{"type":"errorbar","color":"#c8c8c8","thickness":1},"encoding":{"x":{"field":"t","type":"quantitative","scale":{"domain":[0,60],"nice":false,"range":[0,227]},"axis":{"values":[0,20,40,60],"tickCount":20,"title":"Time (min)","titlePadding":-9,"titleFontSize":12.5}},"yError":{"field":"e"}}},
  {"mark":"line","encoding":{"x":{"field":"t","type":"quantitative","axis":{"orient":"top","domain":false,"ticks":false,"labels":false,"title":"Female","titleX":15,"titleY":4,"titleAlign":"left","titleBaseline":"bottom","titleFontSize":11.5}},"stroke":{"field":"g","type":"nominal","scale":{"domain":["WT","MPS IIIA"],"range":["#3c3c3c","#000000"]},"legend":null},"strokeWidth":{"field":"g","type":"nominal","scale":{"domain":["WT","MPS IIIA"],"range":[1,1.5]},"legend":null}}},
  {"mark":{"type":"point","shape":"square","size":14,"filled":true,"opacity":1,"strokeWidth":1},"encoding":{"x":{"field":"t","type":"quantitative","axis":null},"stroke":{"field":"g","type":"nominal","scale":{"domain":["WT","MPS IIIA"],"range":["#3c3c3c","#000000"]},"legend":null},"fill":{"field":"g","type":"nominal","scale":{"domain":["WT","MPS IIIA"],"range":["#ffffff","#000000"]},"legend":null}}}
 ]},
{"width":1,"height":1,"data":{"values":[{"z":""}]},"mark":"text","encoding":{"text":{"field":"z"}}},
{"width":1,"height":1,"data":{"values":[{"z":""}]},"mark":"text","encoding":{"text":{"field":"z"}}},
{"width":1,"height":1,"data":{"values":[{"z":""}]},"mark":"text","encoding":{"text":{"field":"z"}}},
{"width":239,"height":80,"data":{"name":"ts"},"transform":[{"filter":"datum.r=='D'&&datum.s=='Male'"},{"flatten":["t","v","e"]}],"title":{"text":"4 Months","anchor":"end","frame":"group","dx":-16,"offset":-38},"resolve":{"axis":{"x":"independent"}},
 "encoding":{"y":{"field":"v","type":"quantitative","scale":{"domain":[0,40],"nice":false,"range":[80,35]},"axis":{"values":[0,20,40],"tickCount":20,"title":"Male","titleAngle":0,"titleAlign":"left","titleBaseline":"top","titleX":15,"titleY":38,"titleFontSize":11.5}}},
 "layer":[
  {"mark":{"type":"errorbar","color":"#c8c8c8","thickness":1},"encoding":{"x":{"field":"t","type":"quantitative","scale":{"domain":[0,60],"nice":false,"range":[0,227]},"axis":{"values":[0,20,40,60],"tickCount":20,"title":null}},"yError":{"field":"e"}}},
  {"mark":"line","encoding":{"x":{"field":"t","type":"quantitative","axis":{"orient":"top","domain":false,"ticks":false,"labels":false,"title":"D","titleX":-4,"titleY":30,"titleAlign":"left","titleBaseline":"bottom","titleFontSize":15,"titleFontWeight":"bold","titleColor":"#000"}},"stroke":{"field":"g","type":"nominal","scale":{"domain":["WT","MPS IIIA"],"range":["#3c3c3c","#a6a6a6"]},"legend":null},"strokeWidth":{"field":"g","type":"nominal","scale":{"domain":["WT","MPS IIIA"],"range":[1,2]},"legend":null}}},
  {"mark":{"type":"point","shape":"square","size":14,"filled":true,"opacity":1,"strokeWidth":1},"encoding":{"x":{"field":"t","type":"quantitative","axis":null},"stroke":{"field":"g","type":"nominal","scale":{"domain":["WT","MPS IIIA"],"range":["#3c3c3c","#a6a6a6"]},"legend":null},"fill":{"field":"g","type":"nominal","scale":{"domain":["WT","MPS IIIA"],"range":["#ffffff","#a6a6a6"]},"legend":null}}}
 ]},
{"width":88,"height":80,"data":{"name":"bars"},"transform":[{"filter":"datum.r=='D'&&datum.c==1"}],"title":{"text":"1ˢᵗ 3 minutes","anchor":"start","frame":"group","dx":12,"offset":-41,"fontSize":12,"fontWeight":"bold","color":"#000"},
 "encoding":{"x":{"field":"sex","type":"nominal","sort":["Male","Female"],"title":null,"axis":{"labelAngle":0,"ticks":false,"labelExpr":"[datum.label,'WT IIIA']","labelLineHeight":11,"labelPadding":3,"offset":65}}},
 "layer":[
  {"mark":"bar","encoding":{"xOffset":{"field":"g","type":"nominal","sort":["WT","IIIA"]},"y":{"field":"m","type":"quantitative","title":null,"scale":{"domain":[0,70],"nice":false,"range":[145,64]},"axis":{"values":[0,20,40,60],"tickCount":20}},"fill":{"field":"grp","type":"nominal","scale":{"domain":["Male WT","Male IIIA","Female WT","Female IIIA"],"range":["#e1e1e1","#b4b4b4","#ffffff","#000000"]},"legend":null}}},
  {"mark":"rule","encoding":{"xOffset":{"field":"g","type":"nominal","sort":["WT","IIIA"]},"y":{"field":"lo","type":"quantitative","title":null},"y2":{"field":"hi"}}},
  {"mark":{"type":"tick","size":8},"encoding":{"xOffset":{"field":"g","type":"nominal","sort":["WT","IIIA"]},"y":{"field":"lo","type":"quantitative","title":null}}},
  {"mark":{"type":"tick","size":8},"encoding":{"xOffset":{"field":"g","type":"nominal","sort":["WT","IIIA"]},"y":{"field":"hi","type":"quantitative","title":null}}},
  {"transform":[{"filter":"datum.g=='WT'&&!datum.b"}],"mark":{"type":"text","dy":-4,"baseline":"alphabetic"},"encoding":{"y":{"datum":70,"title":null},"text":{"field":"p"}}},
  {"transform":[{"filter":"datum.g=='WT'"}],"mark":{"type":"tick","size":24,"yOffset":3},"encoding":{"y":{"datum":70,"title":null}}}
 ]},
{"width":98,"height":80,"data":{"name":"bars"},"transform":[{"filter":"datum.r=='D'&&datum.c==2"}],"title":{"text":"1ˢᵗ 10 minutes","anchor":"start","frame":"group","dx":8,"offset":-41,"fontSize":12,"fontWeight":"bold","color":"#000"},
 "encoding":{"x":{"field":"sex","type":"nominal","sort":["Male","Female"],"title":null,"scale":{"range":[0,86]},"axis":{"labelAngle":0,"ticks":false,"labelExpr":"[datum.label,'WT IIIA']","labelLineHeight":11,"labelPadding":3,"offset":65}}},
 "layer":[
  {"mark":"bar","encoding":{"xOffset":{"field":"g","type":"nominal","sort":["WT","IIIA"]},"y":{"field":"m","type":"quantitative","title":null,"scale":{"domain":[0,175],"nice":false,"range":[145,64]},"axis":{"values":[0,50,100,150],"tickCount":20}},"fill":{"field":"grp","type":"nominal","scale":{"domain":["Male WT","Male IIIA","Female WT","Female IIIA"],"range":["#e1e1e1","#b4b4b4","#ffffff","#000000"]},"legend":null}}},
  {"mark":"rule","encoding":{"xOffset":{"field":"g","type":"nominal","sort":["WT","IIIA"]},"y":{"field":"lo","type":"quantitative","title":null},"y2":{"field":"hi"}}},
  {"mark":{"type":"tick","size":8},"encoding":{"xOffset":{"field":"g","type":"nominal","sort":["WT","IIIA"]},"y":{"field":"lo","type":"quantitative","title":null}}},
  {"mark":{"type":"tick","size":8},"encoding":{"xOffset":{"field":"g","type":"nominal","sort":["WT","IIIA"]},"y":{"field":"hi","type":"quantitative","title":null}}},
  {"transform":[{"filter":"datum.g=='WT'&&!datum.b"}],"mark":{"type":"text","dy":-4,"baseline":"alphabetic"},"encoding":{"y":{"datum":175,"title":null},"text":{"field":"p"}}},
  {"transform":[{"filter":"datum.g=='WT'"}],"mark":{"type":"tick","size":24,"yOffset":3},"encoding":{"y":{"datum":175,"title":null}}}
 ]},
{"width":89,"height":80,"data":{"name":"bars"},"transform":[{"filter":"datum.r=='D'&&datum.c==3"}],"title":{"text":"1 hour","anchor":"start","frame":"group","dx":5,"offset":-41,"fontSize":12,"fontWeight":"bold","color":"#000"},
 "encoding":{"x":{"field":"sex","type":"nominal","sort":["Male","Female"],"title":null,"axis":{"labelAngle":0,"ticks":false,"labelExpr":"[datum.label,'WT IIIA']","labelLineHeight":11,"labelPadding":3,"offset":65}}},
 "layer":[
  {"mark":"bar","encoding":{"xOffset":{"field":"g","type":"nominal","sort":["WT","IIIA"]},"y":{"field":"m","type":"quantitative","title":null,"scale":{"domain":[0,1500],"nice":false,"range":[145,64]},"axis":{"values":[0,500,1000,1500],"tickCount":20}},"fill":{"field":"grp","type":"nominal","scale":{"domain":["Male WT","Male IIIA","Female WT","Female IIIA"],"range":["#e1e1e1","#b4b4b4","#ffffff","#000000"]},"legend":null}}},
  {"mark":"rule","encoding":{"xOffset":{"field":"g","type":"nominal","sort":["WT","IIIA"]},"y":{"field":"lo","type":"quantitative","title":null},"y2":{"field":"hi"}}},
  {"mark":{"type":"tick","size":8},"encoding":{"xOffset":{"field":"g","type":"nominal","sort":["WT","IIIA"]},"y":{"field":"lo","type":"quantitative","title":null}}},
  {"mark":{"type":"tick","size":8},"encoding":{"xOffset":{"field":"g","type":"nominal","sort":["WT","IIIA"]},"y":{"field":"hi","type":"quantitative","title":null}}},
  {"transform":[{"filter":"datum.g=='WT'&&!datum.b"}],"mark":{"type":"text","dy":-4,"baseline":"alphabetic"},"encoding":{"y":{"datum":1500,"title":null},"text":{"field":"p"}}},
  {"transform":[{"filter":"datum.g=='WT'&&datum.b"}],"mark":{"type":"text","dy":-4,"baseline":"alphabetic","fontWeight":"bold"},"encoding":{"y":{"datum":1500,"title":null},"text":{"field":"p"}}},
  {"transform":[{"filter":"datum.g=='WT'"}],"mark":{"type":"tick","size":24,"yOffset":3},"encoding":{"y":{"datum":1500,"title":null}}}
 ]},
{"width":239,"height":47,"data":{"name":"ts"},"transform":[{"filter":"datum.r=='D'&&datum.s=='Female'"},{"flatten":["t","v","e"]}],"resolve":{"axis":{"x":"independent"}},
 "encoding":{"y":{"field":"v","type":"quantitative","scale":{"domain":[0,40],"nice":false},"axis":{"values":[0,20,40],"tickCount":20,"title":"Duration Immobile (sec)","titleX":-15,"titleY":-11,"titleBaseline":"bottom","titleFontSize":12.4}}},
 "layer":[
  {"mark":{"type":"errorbar","color":"#c8c8c8","thickness":1},"encoding":{"x":{"field":"t","type":"quantitative","scale":{"domain":[0,60],"nice":false,"range":[0,227]},"axis":{"values":[0,20,40,60],"tickCount":20,"title":null}},"yError":{"field":"e"}}},
  {"mark":"line","encoding":{"x":{"field":"t","type":"quantitative","axis":{"orient":"top","domain":false,"ticks":false,"labels":false,"title":"Female","titleX":15,"titleY":11,"titleAlign":"left","titleBaseline":"bottom","titleFontSize":11.5}},"stroke":{"field":"g","type":"nominal","scale":{"domain":["WT","MPS IIIA"],"range":["#3c3c3c","#000000"]},"legend":null},"strokeWidth":{"field":"g","type":"nominal","scale":{"domain":["WT","MPS IIIA"],"range":[1,1.5]},"legend":null}}},
  {"mark":{"type":"point","shape":"square","size":14,"filled":true,"opacity":1,"strokeWidth":1},"encoding":{"x":{"field":"t","type":"quantitative","axis":null},"stroke":{"field":"g","type":"nominal","scale":{"domain":["WT","MPS IIIA"],"range":["#3c3c3c","#000000"]},"legend":null},"fill":{"field":"g","type":"nominal","scale":{"domain":["WT","MPS IIIA"],"range":["#ffffff","#000000"]},"legend":null}}}
 ]},
{"width":1,"height":1,"data":{"values":[{"z":""}]},"mark":"text","encoding":{"text":{"field":"z"}}},
{"width":1,"height":1,"data":{"values":[{"z":""}]},"mark":"text","encoding":{"text":{"field":"z"}}},
{"width":1,"height":1,"data":{"values":[{"z":""}]},"mark":"text","encoding":{"text":{"field":"z"}}},
{"width":239,"height":59,"data":{"name":"ts"},"transform":[{"filter":"datum.r=='E'&&datum.s=='Male'"},{"flatten":["t","v","e"]}],"title":{"text":"6 Months","anchor":"end","frame":"group","dx":-16,"offset":-18},"resolve":{"axis":{"x":"independent"}},
 "encoding":{"y":{"field":"v","type":"quantitative","scale":{"domain":[0,50],"nice":false,"range":[59,13]},"axis":{"values":[0,20,40],"tickCount":20,"title":"Male","titleAngle":0,"titleAlign":"left","titleBaseline":"top","titleX":15,"titleY":16,"titleFontSize":11.5}}},
 "layer":[
  {"mark":{"type":"errorbar","color":"#c8c8c8","thickness":1},"encoding":{"x":{"field":"t","type":"quantitative","scale":{"domain":[0,60],"nice":false,"range":[0,227]},"axis":{"values":[0,20,40,60],"tickCount":20,"title":null}},"yError":{"field":"e"}}},
  {"mark":"line","encoding":{"x":{"field":"t","type":"quantitative","axis":{"orient":"top","domain":false,"ticks":false,"labels":false,"title":"E","titleX":-4,"titleY":13,"titleAlign":"left","titleBaseline":"bottom","titleFontSize":15,"titleFontWeight":"bold","titleColor":"#000"}},"stroke":{"field":"g","type":"nominal","scale":{"domain":["WT","MPS IIIA"],"range":["#3c3c3c","#a6a6a6"]},"legend":null},"strokeWidth":{"field":"g","type":"nominal","scale":{"domain":["WT","MPS IIIA"],"range":[1,2]},"legend":null}}},
  {"mark":{"type":"point","shape":"square","size":14,"filled":true,"opacity":1,"strokeWidth":1},"encoding":{"x":{"field":"t","type":"quantitative","axis":null},"stroke":{"field":"g","type":"nominal","scale":{"domain":["WT","MPS IIIA"],"range":["#3c3c3c","#a6a6a6"]},"legend":null},"fill":{"field":"g","type":"nominal","scale":{"domain":["WT","MPS IIIA"],"range":["#ffffff","#a6a6a6"]},"legend":null}}}
 ]},
{"width":88,"height":59,"data":{"name":"bars"},"transform":[{"filter":"datum.r=='E'&&datum.c==1"}],
 "encoding":{"x":{"field":"sex","type":"nominal","sort":["Male","Female"],"title":null,"axis":{"labelAngle":0,"ticks":false,"labelExpr":"[datum.label,'WT IIIA']","labelLineHeight":11,"labelPadding":3,"offset":67}}},
 "layer":[
  {"mark":"bar","encoding":{"xOffset":{"field":"g","type":"nominal","sort":["WT","IIIA"]},"y":{"field":"m","type":"quantitative","title":null,"scale":{"domain":[0,120],"nice":false,"range":[126,47]},"axis":{"values":[0,50,100],"tickCount":20}},"fill":{"field":"grp","type":"nominal","scale":{"domain":["Male WT","Male IIIA","Female WT","Female IIIA"],"range":["#e1e1e1","#b4b4b4","#ffffff","#000000"]},"legend":null}}},
  {"mark":"rule","encoding":{"xOffset":{"field":"g","type":"nominal","sort":["WT","IIIA"]},"y":{"field":"lo","type":"quantitative","title":null},"y2":{"field":"hi"}}},
  {"mark":{"type":"tick","size":8},"encoding":{"xOffset":{"field":"g","type":"nominal","sort":["WT","IIIA"]},"y":{"field":"lo","type":"quantitative","title":null}}},
  {"mark":{"type":"tick","size":8},"encoding":{"xOffset":{"field":"g","type":"nominal","sort":["WT","IIIA"]},"y":{"field":"hi","type":"quantitative","title":null}}},
  {"transform":[{"filter":"datum.g=='WT'&&!datum.b"}],"mark":{"type":"text","dy":-4,"baseline":"alphabetic"},"encoding":{"y":{"datum":120,"title":null},"text":{"field":"p"}}},
  {"transform":[{"filter":"datum.g=='WT'"}],"mark":{"type":"tick","size":24,"yOffset":3},"encoding":{"y":{"datum":120,"title":null}}}
 ]},
{"width":98,"height":59,"data":{"name":"bars"},"transform":[{"filter":"datum.r=='E'&&datum.c==2"}],
 "encoding":{"x":{"field":"sex","type":"nominal","sort":["Male","Female"],"title":null,"scale":{"range":[0,86]},"axis":{"labelAngle":0,"ticks":false,"labelExpr":"[datum.label,'WT IIIA']","labelLineHeight":11,"labelPadding":3,"offset":67}}},
 "layer":[
  {"mark":"bar","encoding":{"xOffset":{"field":"g","type":"nominal","sort":["WT","IIIA"]},"y":{"field":"m","type":"quantitative","title":null,"scale":{"domain":[0,400],"nice":false,"range":[126,47]},"axis":{"values":[0,100,200,300,400],"tickCount":20}},"fill":{"field":"grp","type":"nominal","scale":{"domain":["Male WT","Male IIIA","Female WT","Female IIIA"],"range":["#e1e1e1","#b4b4b4","#ffffff","#000000"]},"legend":null}}},
  {"mark":"rule","encoding":{"xOffset":{"field":"g","type":"nominal","sort":["WT","IIIA"]},"y":{"field":"lo","type":"quantitative","title":null},"y2":{"field":"hi"}}},
  {"mark":{"type":"tick","size":8},"encoding":{"xOffset":{"field":"g","type":"nominal","sort":["WT","IIIA"]},"y":{"field":"lo","type":"quantitative","title":null}}},
  {"mark":{"type":"tick","size":8},"encoding":{"xOffset":{"field":"g","type":"nominal","sort":["WT","IIIA"]},"y":{"field":"hi","type":"quantitative","title":null}}},
  {"transform":[{"filter":"datum.g=='WT'&&!datum.b"}],"mark":{"type":"text","dy":-4,"baseline":"alphabetic"},"encoding":{"y":{"datum":400,"title":null},"text":{"field":"p"}}},
  {"transform":[{"filter":"datum.g=='WT'"}],"mark":{"type":"tick","size":24,"yOffset":3},"encoding":{"y":{"datum":400,"title":null}}}
 ]},
{"width":89,"height":59,"data":{"name":"bars"},"transform":[{"filter":"datum.r=='E'&&datum.c==3"}],
 "encoding":{"x":{"field":"sex","type":"nominal","sort":["Male","Female"],"title":null,"axis":{"labelAngle":0,"ticks":false,"labelExpr":"[datum.label,'WT IIIA']","labelLineHeight":11,"labelPadding":3,"offset":67}}},
 "layer":[
  {"mark":"bar","encoding":{"xOffset":{"field":"g","type":"nominal","sort":["WT","IIIA"]},"y":{"field":"m","type":"quantitative","title":null,"scale":{"domain":[0,2000],"nice":false,"range":[126,47]},"axis":{"values":[0,1000,2000],"tickCount":20}},"fill":{"field":"grp","type":"nominal","scale":{"domain":["Male WT","Male IIIA","Female WT","Female IIIA"],"range":["#e1e1e1","#b4b4b4","#ffffff","#000000"]},"legend":null}}},
  {"mark":"rule","encoding":{"xOffset":{"field":"g","type":"nominal","sort":["WT","IIIA"]},"y":{"field":"lo","type":"quantitative","title":null},"y2":{"field":"hi"}}},
  {"mark":{"type":"tick","size":8},"encoding":{"xOffset":{"field":"g","type":"nominal","sort":["WT","IIIA"]},"y":{"field":"lo","type":"quantitative","title":null}}},
  {"mark":{"type":"tick","size":8},"encoding":{"xOffset":{"field":"g","type":"nominal","sort":["WT","IIIA"]},"y":{"field":"hi","type":"quantitative","title":null}}},
  {"transform":[{"filter":"datum.g=='WT'&&!datum.b"}],"mark":{"type":"text","dy":-4,"baseline":"alphabetic"},"encoding":{"y":{"datum":2000,"title":null},"text":{"field":"p"}}},
  {"transform":[{"filter":"datum.g=='WT'&&datum.b"}],"mark":{"type":"text","dy":-4,"baseline":"alphabetic","fontWeight":"bold"},"encoding":{"y":{"datum":2000,"title":null},"text":{"field":"p"}}},
  {"transform":[{"filter":"datum.g=='WT'"}],"mark":{"type":"tick","size":24,"yOffset":3},"encoding":{"y":{"datum":2000,"title":null}}}
 ]},
{"width":239,"height":47,"data":{"name":"ts"},"transform":[{"filter":"datum.r=='E'&&datum.s=='Female'"},{"flatten":["t","v","e"]}],"resolve":{"axis":{"x":"independent"}},
 "encoding":{"y":{"field":"v","type":"quantitative","scale":{"domain":[0,50],"nice":false},"axis":{"values":[0,20,40],"tickCount":20,"title":"Duration Immobile  (sec)","titleX":-15,"titleY":-10,"titleBaseline":"bottom","titleFontSize":12.4}}},
 "layer":[
  {"mark":{"type":"errorbar","color":"#c8c8c8","thickness":1},"encoding":{"x":{"field":"t","type":"quantitative","scale":{"domain":[0,60],"nice":false,"range":[0,227]},"axis":{"values":[0,20,40,60],"tickCount":20,"title":null}},"yError":{"field":"e"}}},
  {"mark":"line","encoding":{"x":{"field":"t","type":"quantitative","axis":{"orient":"top","domain":false,"ticks":false,"labels":false,"title":"Female","titleX":15,"titleY":12,"titleAlign":"left","titleBaseline":"bottom","titleFontSize":11.5}},"stroke":{"field":"g","type":"nominal","scale":{"domain":["WT","MPS IIIA"],"range":["#3c3c3c","#000000"]},"legend":null},"strokeWidth":{"field":"g","type":"nominal","scale":{"domain":["WT","MPS IIIA"],"range":[1,1.5]},"legend":null}}},
  {"mark":{"type":"point","shape":"square","size":14,"filled":true,"opacity":1,"strokeWidth":1},"encoding":{"x":{"field":"t","type":"quantitative","axis":null},"stroke":{"field":"g","type":"nominal","scale":{"domain":["WT","MPS IIIA"],"range":["#3c3c3c","#000000"]},"legend":null},"fill":{"field":"g","type":"nominal","scale":{"domain":["WT","MPS IIIA"],"range":["#ffffff","#000000"]},"legend":null}}}
 ]},
{"width":1,"height":1,"data":{"values":[{"z":""}]},"mark":"text","encoding":{"text":{"field":"z"}}},
{"width":1,"height":1,"data":{"values":[{"z":""}]},"mark":"text","encoding":{"text":{"field":"z"}}},
{"width":1,"height":1,"data":{"values":[{"z":""}]},"mark":"text","encoding":{"text":{"field":"z"}}},
{"width":239,"height":62,"data":{"name":"ts"},"transform":[{"filter":"datum.r=='F'&&datum.s=='Male'"},{"flatten":["t","v","e"]}],"title":{"text":"8 Months","anchor":"end","frame":"group","dx":-16,"offset":-14},"resolve":{"axis":{"x":"independent"}},
 "encoding":{"y":{"field":"v","type":"quantitative","scale":{"domain":[0,60],"nice":false,"range":[62,18]},"axis":{"values":[0,20,40,60],"tickCount":20,"title":"Male","titleAngle":0,"titleAlign":"left","titleBaseline":"top","titleX":15,"titleY":10,"titleFontSize":11.5}}},
 "layer":[
  {"mark":{"type":"errorbar","color":"#c8c8c8","thickness":1},"encoding":{"x":{"field":"t","type":"quantitative","scale":{"domain":[0,60],"nice":false,"range":[0,227]},"axis":{"values":[0,20,40,60],"tickCount":20,"title":null}},"yError":{"field":"e"}}},
  {"mark":"line","encoding":{"x":{"field":"t","type":"quantitative","axis":{"orient":"top","domain":false,"ticks":false,"labels":false,"title":"F","titleX":-4,"titleY":13,"titleAlign":"left","titleBaseline":"bottom","titleFontSize":15,"titleFontWeight":"bold","titleColor":"#000"}},"stroke":{"field":"g","type":"nominal","scale":{"domain":["WT","MPS IIIA"],"range":["#3c3c3c","#a6a6a6"]},"legend":null},"strokeWidth":{"field":"g","type":"nominal","scale":{"domain":["WT","MPS IIIA"],"range":[1,2]},"legend":null}}},
  {"mark":{"type":"point","shape":"square","size":14,"filled":true,"opacity":1,"strokeWidth":1},"encoding":{"x":{"field":"t","type":"quantitative","axis":null},"stroke":{"field":"g","type":"nominal","scale":{"domain":["WT","MPS IIIA"],"range":["#3c3c3c","#a6a6a6"]},"legend":null},"fill":{"field":"g","type":"nominal","scale":{"domain":["WT","MPS IIIA"],"range":["#ffffff","#a6a6a6"]},"legend":null}}}
 ]},
{"width":88,"height":62,"data":{"name":"bars"},"transform":[{"filter":"datum.r=='F'&&datum.c==1"}],
 "encoding":{"x":{"field":"sex","type":"nominal","sort":["Male","Female"],"title":null,"axis":{"labelAngle":0,"ticks":false,"labelExpr":"[datum.label,'WT IIIA']","labelLineHeight":11,"labelPadding":3,"offset":60}}},
 "layer":[
  {"mark":"bar","encoding":{"xOffset":{"field":"g","type":"nominal","sort":["WT","IIIA"]},"y":{"field":"m","type":"quantitative","title":null,"scale":{"domain":[0,120],"nice":false,"range":[122,44]},"axis":{"values":[0,50,100],"tickCount":20}},"fill":{"field":"grp","type":"nominal","scale":{"domain":["Male WT","Male IIIA","Female WT","Female IIIA"],"range":["#e1e1e1","#b4b4b4","#ffffff","#000000"]},"legend":null}}},
  {"mark":"rule","encoding":{"xOffset":{"field":"g","type":"nominal","sort":["WT","IIIA"]},"y":{"field":"lo","type":"quantitative","title":null},"y2":{"field":"hi"}}},
  {"mark":{"type":"tick","size":8},"encoding":{"xOffset":{"field":"g","type":"nominal","sort":["WT","IIIA"]},"y":{"field":"lo","type":"quantitative","title":null}}},
  {"mark":{"type":"tick","size":8},"encoding":{"xOffset":{"field":"g","type":"nominal","sort":["WT","IIIA"]},"y":{"field":"hi","type":"quantitative","title":null}}},
  {"transform":[{"filter":"datum.g=='WT'&&!datum.b"}],"mark":{"type":"text","dy":-4,"baseline":"alphabetic"},"encoding":{"y":{"datum":120,"title":null},"text":{"field":"p"}}},
  {"transform":[{"filter":"datum.g=='WT'"}],"mark":{"type":"tick","size":24,"yOffset":3},"encoding":{"y":{"datum":120,"title":null}}}
 ]},
{"width":98,"height":62,"data":{"name":"bars"},"transform":[{"filter":"datum.r=='F'&&datum.c==2"}],
 "encoding":{"x":{"field":"sex","type":"nominal","sort":["Male","Female"],"title":null,"scale":{"range":[0,86]},"axis":{"labelAngle":0,"ticks":false,"labelExpr":"[datum.label,'WT IIIA']","labelLineHeight":11,"labelPadding":3,"offset":60}}},
 "layer":[
  {"mark":"bar","encoding":{"xOffset":{"field":"g","type":"nominal","sort":["WT","IIIA"]},"y":{"field":"m","type":"quantitative","title":null,"scale":{"domain":[0,400],"nice":false,"range":[122,44]},"axis":{"values":[0,100,200,300,400],"tickCount":20}},"fill":{"field":"grp","type":"nominal","scale":{"domain":["Male WT","Male IIIA","Female WT","Female IIIA"],"range":["#e1e1e1","#b4b4b4","#ffffff","#000000"]},"legend":null}}},
  {"mark":"rule","encoding":{"xOffset":{"field":"g","type":"nominal","sort":["WT","IIIA"]},"y":{"field":"lo","type":"quantitative","title":null},"y2":{"field":"hi"}}},
  {"mark":{"type":"tick","size":8},"encoding":{"xOffset":{"field":"g","type":"nominal","sort":["WT","IIIA"]},"y":{"field":"lo","type":"quantitative","title":null}}},
  {"mark":{"type":"tick","size":8},"encoding":{"xOffset":{"field":"g","type":"nominal","sort":["WT","IIIA"]},"y":{"field":"hi","type":"quantitative","title":null}}},
  {"transform":[{"filter":"datum.g=='WT'&&!datum.b"}],"mark":{"type":"text","dy":-4,"baseline":"alphabetic"},"encoding":{"y":{"datum":400,"title":null},"text":{"field":"p"}}},
  {"transform":[{"filter":"datum.g=='WT'"}],"mark":{"type":"tick","size":24,"yOffset":3},"encoding":{"y":{"datum":400,"title":null}}}
 ]},
{"width":89,"height":62,"data":{"name":"bars"},"transform":[{"filter":"datum.r=='F'&&datum.c==3"}],
 "encoding":{"x":{"field":"sex","type":"nominal","sort":["Male","Female"],"title":null,"axis":{"labelAngle":0,"ticks":false,"labelExpr":"[datum.label,'WT IIIA']","labelLineHeight":11,"labelPadding":3,"offset":60}}},
 "layer":[
  {"mark":"bar","encoding":{"xOffset":{"field":"g","type":"nominal","sort":["WT","IIIA"]},"y":{"field":"m","type":"quantitative","title":null,"scale":{"domain":[0,2000],"nice":false,"range":[122,44]},"axis":{"values":[0,1000,2000],"tickCount":20}},"fill":{"field":"grp","type":"nominal","scale":{"domain":["Male WT","Male IIIA","Female WT","Female IIIA"],"range":["#e1e1e1","#b4b4b4","#ffffff","#000000"]},"legend":null}}},
  {"mark":"rule","encoding":{"xOffset":{"field":"g","type":"nominal","sort":["WT","IIIA"]},"y":{"field":"lo","type":"quantitative","title":null},"y2":{"field":"hi"}}},
  {"mark":{"type":"tick","size":8},"encoding":{"xOffset":{"field":"g","type":"nominal","sort":["WT","IIIA"]},"y":{"field":"lo","type":"quantitative","title":null}}},
  {"mark":{"type":"tick","size":8},"encoding":{"xOffset":{"field":"g","type":"nominal","sort":["WT","IIIA"]},"y":{"field":"hi","type":"quantitative","title":null}}},
  {"transform":[{"filter":"datum.g=='WT'&&!datum.b"}],"mark":{"type":"text","dy":-4,"baseline":"alphabetic"},"encoding":{"y":{"datum":2000,"title":null},"text":{"field":"p"}}},
  {"transform":[{"filter":"datum.g=='WT'"}],"mark":{"type":"tick","size":24,"yOffset":3},"encoding":{"y":{"datum":2000,"title":null}}}
 ]},
{"width":239,"height":43,"data":{"name":"ts"},"transform":[{"filter":"datum.r=='F'&&datum.s=='Female'"},{"flatten":["t","v","e"]}],"resolve":{"axis":{"x":"independent"}},
 "encoding":{"y":{"field":"v","type":"quantitative","scale":{"domain":[0,60],"nice":false},"axis":{"values":[0,20,40,60],"tickCount":20,"title":"Duration Immobile (sec)","titleX":-15,"titleY":-10,"titleBaseline":"bottom","titleFontSize":12.4}}},
 "layer":[
  {"mark":{"type":"errorbar","color":"#c8c8c8","thickness":1},"encoding":{"x":{"field":"t","type":"quantitative","scale":{"domain":[0,60],"nice":false,"range":[0,227]},"axis":{"values":[0,20,40,60],"tickCount":20,"title":"Time (min)","titlePadding":-9,"titleFontSize":12.5}},"yError":{"field":"e"}}},
  {"mark":"line","encoding":{"x":{"field":"t","type":"quantitative","axis":{"orient":"top","domain":false,"ticks":false,"labels":false,"title":"Female","titleX":15,"titleY":2,"titleAlign":"left","titleBaseline":"bottom","titleFontSize":11.5}},"stroke":{"field":"g","type":"nominal","scale":{"domain":["WT","MPS IIIA"],"range":["#3c3c3c","#000000"]},"legend":null},"strokeWidth":{"field":"g","type":"nominal","scale":{"domain":["WT","MPS IIIA"],"range":[1,1.5]},"legend":null}}},
  {"mark":{"type":"point","shape":"square","size":14,"filled":true,"opacity":1,"strokeWidth":1},"encoding":{"x":{"field":"t","type":"quantitative","axis":null},"stroke":{"field":"g","type":"nominal","scale":{"domain":["WT","MPS IIIA"],"range":["#3c3c3c","#000000"]},"legend":null},"fill":{"field":"g","type":"nominal","scale":{"domain":["WT","MPS IIIA"],"range":["#ffffff","#000000"]},"legend":null}}}
 ]},
{"width":1,"height":1,"data":{"values":[{"z":""}]},"mark":"text","encoding":{"text":{"field":"z"}}},
{"width":1,"height":1,"data":{"values":[{"z":""}]},"mark":"text","encoding":{"text":{"field":"z"}}},
{"width":1,"height":1,"data":{"values":[{"z":""}]},"mark":"text","encoding":{"text":{"field":"z"}}}
]
}
